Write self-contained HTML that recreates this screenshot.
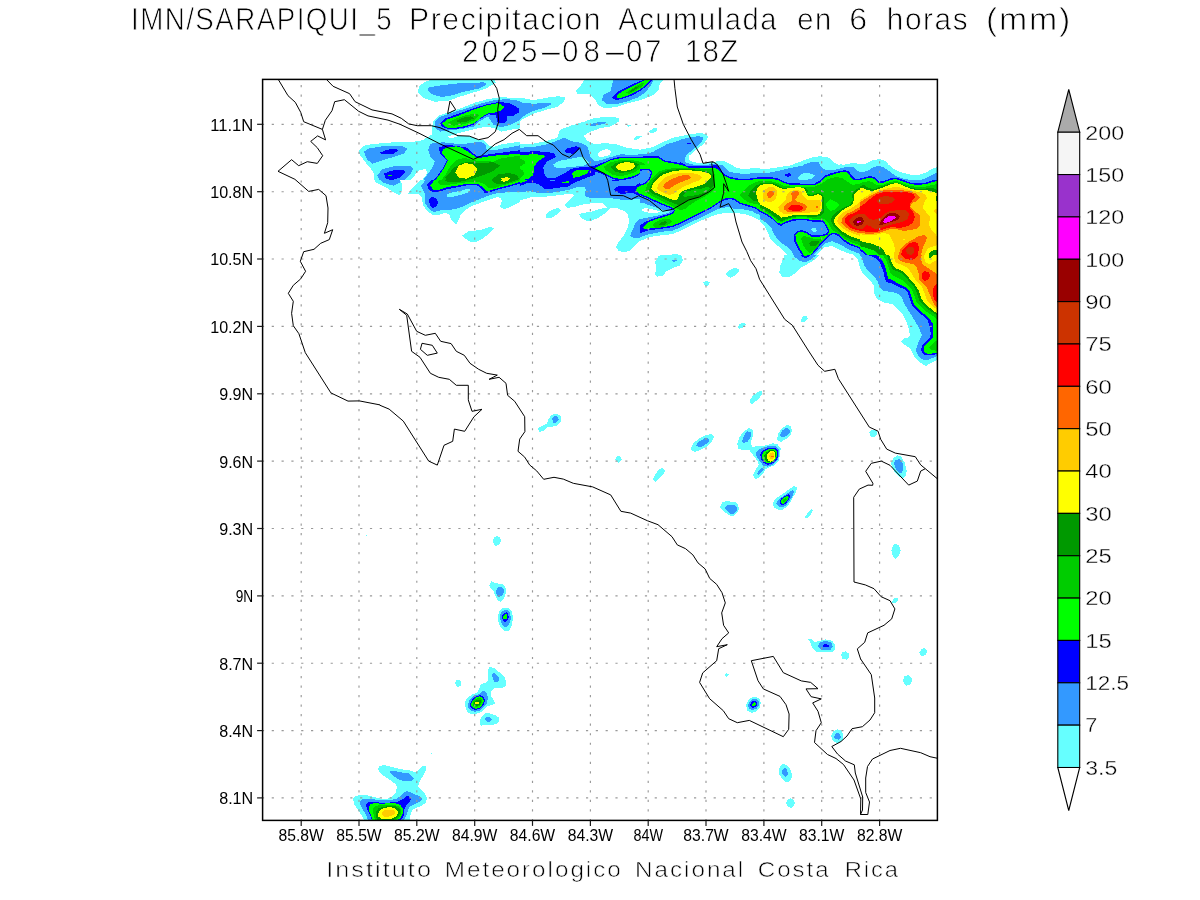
<!DOCTYPE html>
<html lang="es"><head><meta charset="utf-8"><title>IMN/SARAPIQUI_5 Precipitacion Acumulada en 6 horas (mm)</title>
<style>html,body{margin:0;padding:0;background:#fff;}body{width:1200px;height:900px;overflow:hidden;}svg{display:block;}text{font-family:"Liberation Sans","DejaVu Sans",sans-serif;fill:#000;}.t{font-size:30.5px;stroke:#fff;stroke-width:0.8px;letter-spacing:1.6px;}.ax{font-size:17.2px;}.cb{font-size:19.4px;stroke:#fff;stroke-width:0.35px;}.ft{font-size:22px;fill:#000;stroke:#fff;stroke-width:0.6px;letter-spacing:1.8px;}</style></head><body>
<svg width="1200" height="900" viewBox="0 0 1200 900">
<rect width="1200" height="900" fill="#fff"/>
<defs><clipPath id="pc"><rect x="262.6" y="79.4" width="674.8" height="741.0"/></clipPath></defs>
<g clip-path="url(#pc)" id="shade" shape-rendering="crispEdges">
<svg x="355" y="75" width="165" height="120" viewBox="355 75 165 120">
<rect x="355" y="75" width="165" height="120" fill="#fff"/>
<path fill="#66ffff" d="M429.3 80.3L494.7 80.3L496.0 82.3L486.7 88.3L476.0 91.7L458.7 97.0L448.0 101.0L434.7 101.7L424.0 98.3L417.3 92.3L419.3 86.3L424.0 82.3Z"/>
<path fill="#66ffff" d="M358.7 150.3L365.3 145.0L377.3 143.7L393.3 142.3L413.3 141.7L422.7 140.3L432.0 134.3L432.7 121.7L438.7 115.7L450.7 111.7L464.0 107.0L476.0 102.3L488.0 99.0L500.0 97.4L520.0 97.7L520.0 195.0L398.7 195.0L394.7 193.0L386.7 187.7L374.7 181.7L373.3 171.7L366.0 163.0L360.0 155.0L358.7 152.3Z"/>
<path fill="#ffffff" d="M446.7 137.0L453.3 134.6L466.7 131.0L480.0 127.7L488.0 127.0L494.7 128.3L501.3 131.7L510.7 129.7L520.0 128.3L520.0 141.7L510.7 143.0L501.3 144.3L493.3 147.0L488.0 145.0L484.0 140.3L477.3 139.7L469.3 136.1L458.7 136.1L452.0 138.3Z"/>
<path fill="#ffffff" d="M420.0 169.9L426.0 169.0L427.3 173.0L422.7 179.7L416.0 185.7L410.7 192.3L409.3 195.0L400.0 195.0L404.0 188.3L410.7 180.3L416.0 173.7Z"/>
<path fill="#3399ff" d="M434.7 86.3L453.3 83.7L484.0 82.3L486.7 84.3L480.0 88.3L464.0 91.7L453.3 95.0L442.7 97.0L433.3 95.0L427.3 90.3L428.7 87.7Z"/>
<path fill="#3399ff" d="M364.0 151.7L369.3 148.3L386.7 145.7L402.7 146.3L407.3 148.3L404.0 153.7L393.3 157.0L382.7 160.3L372.0 163.7L366.7 159.0Z"/>
<path fill="#3399ff" d="M377.3 175.0L382.7 169.0L396.0 165.7L409.3 165.7L413.3 168.3L410.7 173.7L404.0 180.3L393.3 185.7L384.0 183.0L378.7 179.0Z"/>
<path fill="#3399ff" d="M434.7 121.7L440.0 117.0L453.3 112.3L466.7 108.3L480.0 103.7L493.3 100.3L506.7 99.0L520.0 101.0L520.0 119.9L510.0 125.0L500.0 127.4L498.7 126.3L493.3 124.6L490.7 120.3L488.0 116.3L480.0 121.0L474.7 126.3L461.3 129.0L450.7 130.3L440.0 131.7L435.3 127.7Z"/>
<path fill="#3399ff" d="M428.0 149.7L430.7 143.7L442.7 142.3L461.3 144.3L480.0 141.7L485.3 144.3L486.7 149.7L493.3 150.3L520.0 145.4L520.0 195.0L426.7 195.0L422.7 191.0L420.0 185.7L424.0 179.0L432.0 168.3L434.7 161.7L430.7 157.7Z"/>
<path fill="#0000ff" d="M379.3 153.0L386.7 149.7L396.0 149.0L398.0 151.0L393.3 153.7L384.0 154.3Z"/>
<path fill="#0000ff" d="M384.0 173.7L390.7 170.7L402.7 169.7L405.3 172.3L400.0 177.7L390.7 180.3L385.3 178.3Z"/>
<path fill="#0000ff" d="M440.0 123.0L445.3 118.3L458.7 113.7L473.3 108.3L486.7 104.3L500.0 101.7L510.7 103.7L518.7 108.3L519.3 112.3L513.3 115.7L506.7 115.7L507.3 120.3L504.0 123.0L497.3 122.3L496.0 115.0L488.0 114.3L480.0 119.0L474.7 124.3L464.0 127.7L453.3 129.4L445.3 128.3L441.3 126.3Z"/>
<path fill="#0000ff" d="M438.7 147.7L445.3 145.0L456.0 145.7L466.7 147.7L473.3 153.7L477.3 156.3L493.3 153.7L520.0 150.3L520.0 185.7L506.7 189.7L493.3 191.0L486.7 193.0L484.0 189.7L480.0 185.7L453.3 189.7L440.0 192.3L430.7 191.0L428.0 185.7L436.0 177.7L442.7 168.3L446.7 160.3L440.0 153.7Z"/>
<path fill="#00ff00" d="M388.0 174.7L392.0 174.7L392.0 175.8L388.0 175.8Z"/>
<path fill="#00ff00" d="M442.0 123.7L446.7 119.7L460.0 115.0L473.3 109.7L486.7 105.4L498.7 103.0L504.7 107.0L501.3 110.3L493.3 113.0L486.7 113.7L480.0 118.3L474.7 123.0L464.0 126.3L453.3 128.1L445.3 127.3Z"/>
<path fill="#00ff00" d="M442.7 149.7L446.7 147.7L456.0 146.3L461.3 147.7L473.3 155.0L477.3 158.3L493.3 155.7L520.0 153.7L520.0 183.7L506.7 188.3L493.3 189.7L486.7 191.0L480.0 185.0L453.3 188.3L440.0 189.7L432.0 188.3L430.7 185.0L437.3 177.7L444.0 168.3L448.0 160.3L442.0 153.7Z"/>
<path fill="#00cc00" d="M448.0 122.3L456.0 118.3L466.7 115.0L474.7 113.7L480.0 115.0L474.7 120.3L464.0 124.3L453.3 125.7Z"/>
<path fill="#00cc00" d="M445.3 175.0L450.7 165.7L456.0 160.3L464.0 157.7L473.3 160.3L493.3 161.7L501.3 158.3L520.0 155.7L520.0 181.7L506.7 187.0L493.3 188.3L488.0 185.7L480.0 183.7L466.7 183.7L453.3 185.7L442.7 184.3L440.0 181.7Z"/>
<path fill="#009900" d="M456.0 121.0L462.7 117.7L470.7 116.3L474.0 118.3L466.7 121.7L460.0 122.7Z"/>
<path fill="#009900" d="M445.3 177.7L453.3 168.3L461.3 163.0L470.7 161.7L477.3 163.0L493.3 162.3L500.0 165.7L493.3 171.0L480.0 176.3L466.7 180.3L453.3 183.0L446.7 181.7Z"/>
<path fill="#009900" d="M492.0 179.0L498.7 174.3L509.3 173.0L517.3 175.0L518.7 179.0L513.3 183.0L501.3 185.0L494.7 183.0Z"/>
<path fill="#ffff00" d="M455.3 172.3L458.7 165.7L465.3 163.0L473.3 164.3L477.3 169.0L474.7 175.0L466.7 178.7L458.7 177.7Z"/>
<path fill="#ffff00" d="M501.3 178.3L506.7 177.0L510.7 178.3L508.0 181.0L502.7 181.7Z"/>
</svg>
<svg x="520" y="75" width="160" height="120" viewBox="520 75 160 120">
<rect x="520" y="75" width="160" height="120" fill="#fff"/>
<path fill="#66ffff" d="M520.0 97.7L528.0 99.0L533.3 100.3L546.7 97.7L557.3 96.3L565.3 97.0L564.0 101.7L557.3 107.0L546.7 109.7L533.3 113.7L525.3 117.7L520.0 121.0Z"/>
<path fill="#66ffff" d="M584.0 80.3L662.7 80.3L658.7 85.7L659.3 89.7L653.3 95.0L640.0 100.3L626.7 103.7L616.0 107.0L605.3 108.3L598.7 105.7L594.7 99.0L589.3 94.3L577.3 93.7L576.0 90.3L580.0 86.3Z"/>
<path fill="#66ffff" d="M520.0 144.3L533.3 143.7L546.7 141.0L557.3 137.7L560.0 129.7L570.7 125.7L584.0 121.7L594.7 117.7L613.3 117.0L619.3 118.3L618.7 121.7L610.7 126.3L600.0 128.3L589.3 132.3L584.0 135.7L586.7 140.3L594.7 144.3L605.3 143.0L616.0 144.3L626.7 147.7L640.0 149.7L653.3 147.0L664.0 141.7L673.3 137.7L680.0 136.3L680.0 195.0L520.0 195.0Z"/>
<path fill="#ffffff" d="M597.3 155.0L600.0 151.0L606.7 149.0L611.3 151.0L609.3 155.0L602.7 157.0L598.7 156.6Z"/>
<path fill="#66ffff" d="M626.0 124.6L630.7 125.4L628.7 127.0Z"/>
<path fill="#66ffff" d="M648.7 131.7L653.3 128.3L657.3 128.3L657.3 131.0L652.0 133.7Z"/>
<path fill="#66ffff" d="M633.3 139.0L636.0 136.3L642.0 136.1L638.7 139.0L634.7 140.1Z"/>
<path fill="#3399ff" d="M520.0 102.3L533.3 103.7L546.7 103.0L552.0 103.7L546.7 107.0L533.3 111.0L525.3 115.0L520.0 119.0Z"/>
<path fill="#3399ff" d="M613.3 80.3L653.3 80.3L650.7 85.7L645.3 92.3L637.3 97.7L626.7 101.7L616.0 104.3L606.7 103.7L602.0 100.3L603.3 95.0L610.7 91.0L612.0 84.3Z"/>
<path fill="#3399ff" d="M589.3 124.6L597.3 122.3L606.7 121.9L605.3 123.7L597.3 125.4L590.7 125.9Z"/>
<path fill="#3399ff" d="M520.0 147.7L533.3 147.0L546.7 144.3L554.7 141.7L564.0 137.7L570.7 141.0L581.3 143.0L587.3 146.3L588.7 151.0L590.7 157.7L594.7 161.7L600.0 160.3L613.3 156.3L621.3 154.3L633.3 155.0L646.7 153.7L653.3 151.7L666.7 144.3L680.0 140.3L680.0 195.0L520.0 195.0Z"/>
<path fill="#66ffff" d="M553.3 164.3L558.7 161.0L573.3 158.3L582.7 156.3L586.7 160.3L589.3 163.0L584.0 165.7L570.7 167.0L558.7 168.3L554.0 167.0Z"/>
<path fill="#66ffff" d="M558.7 195.0L564.0 191.0L573.3 188.3L580.0 186.3L585.3 188.3L586.0 192.3L584.0 195.0Z"/>
<path fill="#ffffff" d="M564.0 195.0L566.7 193.0L573.3 193.0L574.7 195.0Z"/>
<path fill="#0000ff" d="M616.0 93.0L621.3 89.7L633.3 83.7L642.7 80.3L652.0 80.3L648.0 85.0L640.0 91.0L632.0 95.7L621.3 99.0L616.0 100.3L612.0 97.7Z"/>
<path fill="#0000ff" d="M564.0 151.0L568.0 148.1L576.0 146.3L580.0 147.7L577.3 151.0L573.3 153.7L566.7 153.0Z"/>
<path fill="#0000ff" d="M520.0 152.1L533.3 151.3L546.7 151.7L554.7 153.7L556.0 157.0L546.7 161.7L543.3 167.0L544.0 173.7L546.7 177.7L554.7 178.3L564.0 173.7L570.7 169.0L581.3 167.0L589.3 166.7L594.7 171.3L594.7 175.0L586.7 177.7L576.0 181.7L566.7 185.0L553.3 187.7L544.0 188.3L533.3 184.6L520.0 183.0Z"/>
<path fill="#0000ff" d="M589.3 167.0L594.7 165.7L605.3 161.7L613.3 158.3L621.3 156.6L633.3 157.0L646.7 156.3L658.7 156.3L664.0 160.3L680.0 163.0L680.0 195.0L637.3 195.0L634.7 190.3L640.0 185.7L648.0 178.3L651.3 171.0L645.3 171.3L633.3 177.9L621.3 180.6L613.3 179.3L605.3 175.3L594.7 171.3Z"/>
<path fill="#0000ff" d="M613.3 188.3L617.3 185.7L626.7 186.3L634.7 189.7L637.3 195.0L616.0 195.0Z"/>
<path fill="#00ff00" d="M617.3 95.0L624.0 90.3L634.7 85.0L644.0 80.3L650.0 80.3L645.3 85.7L637.3 91.0L629.3 95.0L621.3 97.7L616.7 97.7Z"/>
<path fill="#00cc00" d="M625.3 93.0L633.3 87.7L640.0 83.7L644.0 83.0L642.7 86.3L636.0 90.3L629.3 93.7Z"/>
<path fill="#009900" d="M629.3 91.7L636.0 87.0L640.0 85.7L637.3 88.3L632.0 91.7Z"/>
<path fill="#00ff00" d="M520.0 155.0L533.3 154.3L542.7 154.7L545.3 156.6L537.3 161.7L534.0 167.0L533.3 175.0L528.0 179.0L520.0 180.3Z"/>
<path fill="#00cc00" d="M520.0 159.0L524.0 160.3L525.3 163.0L521.3 165.7L520.0 165.7Z"/>
<path fill="#00cc00" d="M520.0 168.3L523.3 171.0L524.0 175.0L521.3 177.7L520.0 177.7Z"/>
<path fill="#00ff00" d="M572.0 173.7L574.7 170.7L584.0 169.7L589.3 170.3L586.7 173.7L578.7 177.0L573.3 177.7Z"/>
<path fill="#00ff00" d="M562.4 181.7L568.0 181.0L568.7 182.3L565.3 183.3Z"/>
<path fill="#00ff00" d="M594.7 168.3L600.0 165.7L610.7 160.3L621.3 157.9L633.3 158.3L646.7 158.3L658.7 158.3L664.0 161.7L680.0 164.6L680.0 195.0L637.3 195.0L636.0 191.0L641.3 185.7L649.3 178.3L652.0 171.3L650.0 169.0L645.3 169.9L633.3 176.3L621.3 179.0L613.3 177.7L605.3 173.7Z"/>
<path fill="#00cc00" d="M603.3 167.0L610.7 162.3L621.3 159.7L633.3 160.3L640.0 161.7L645.3 164.3L640.0 169.0L633.3 173.0L621.3 176.3L613.3 175.0L606.7 171.0Z"/>
<path fill="#009900" d="M610.7 167.0L616.0 163.0L624.0 161.0L633.3 161.7L638.7 164.3L636.0 168.3L629.3 171.7L621.3 173.0L614.7 171.7Z"/>
<path fill="#ffff00" d="M615.3 167.0L619.3 163.7L626.7 161.9L633.3 163.0L635.3 165.7L632.7 169.0L625.3 171.0L618.7 170.3Z"/>
<path fill="#00cc00" d="M680.0 167.3L666.7 168.3L658.7 171.0L653.3 176.3L648.0 183.0L643.3 189.7L644.0 195.0L680.0 195.0Z"/>
<path fill="#009900" d="M680.0 169.0L666.7 169.9L660.0 173.0L654.7 178.3L650.0 184.3L646.7 189.7L647.3 195.0L680.0 195.0Z"/>
<path fill="#ffff00" d="M680.0 171.3L669.3 173.0L661.3 176.3L656.0 181.7L652.0 187.0L651.3 191.0L653.3 195.0L680.0 195.0Z"/>
<path fill="#ffcc00" d="M680.0 173.7L672.0 175.7L665.3 179.0L660.0 183.0L657.3 187.0L658.7 191.0L664.0 193.7L668.0 195.0L680.0 195.0Z"/>
<path fill="#ff6600" d="M680.0 175.7L673.3 178.3L666.7 181.7L663.3 185.0L664.7 188.3L669.3 189.0L674.7 187.0L680.0 184.3Z"/>
</svg>
<svg x="680" y="75" width="160" height="120" viewBox="680 75 160 120">
<rect x="680" y="75" width="160" height="120" fill="#fff"/>
<path fill="#66ffff" d="M680.0 136.3L688.0 134.7L700.0 133.0L706.7 134.3L708.0 137.7L704.0 143.7L696.0 149.7L689.3 155.7L689.1 159.7L693.3 162.3L702.7 163.0L713.3 161.7L724.0 161.0L730.7 164.3L733.3 167.7L746.7 168.3L760.0 169.7L773.3 169.0L786.7 167.0L800.0 161.7L810.7 157.7L820.0 156.1L829.3 157.7L834.7 163.0L840.0 165.7L840.0 195.0L680.0 195.0Z"/>
<path fill="#3399ff" d="M680.0 139.7L688.0 137.7L698.7 136.1L703.3 137.7L702.0 141.7L696.0 147.0L688.0 153.7L684.7 157.7L685.3 162.3L693.3 164.6L706.7 164.6L717.3 164.1L722.7 167.0L726.7 171.7L733.3 173.0L746.7 173.0L760.0 173.7L773.3 173.0L786.7 169.7L800.0 165.7L810.7 162.3L818.7 162.3L821.3 167.0L826.7 169.7L840.0 169.9L840.0 195.0L680.0 195.0Z"/>
<path fill="#66ffff" d="M797.3 177.7L802.7 173.7L809.3 173.0L815.3 175.0L812.0 178.3L804.0 179.7L798.7 179.7Z"/>
<path fill="#0000ff" d="M686.7 142.9L691.3 142.9L691.3 143.9L686.7 143.9Z"/>
<path fill="#0000ff" d="M784.0 175.0L788.7 173.0L792.0 175.0L788.0 177.0Z"/>
<path fill="#0000ff" d="M680.0 161.7L684.0 164.3L693.3 167.0L706.7 167.3L717.3 167.7L722.7 171.0L728.0 176.3L736.0 178.3L746.7 177.7L760.0 177.0L768.0 176.3L776.0 177.7L786.7 180.3L793.3 181.7L810.7 182.3L818.7 180.3L824.0 176.3L829.3 173.7L840.0 170.7L840.0 195.0L680.0 195.0Z"/>
<path fill="#00ff00" d="M680.0 165.0L693.3 168.3L706.7 169.0L716.0 169.0L721.3 173.0L726.7 178.3L736.0 181.0L744.0 182.3L749.3 181.0L760.0 179.0L768.0 177.9L776.0 179.7L786.7 183.0L793.3 183.7L810.7 184.6L818.7 182.3L825.3 177.7L830.7 175.0L840.0 172.6L840.0 195.0L680.0 195.0Z"/>
<path fill="#00cc00" d="M680.0 167.0L693.3 169.0L706.7 169.4L715.3 169.9L720.0 174.3L722.7 180.3L721.3 185.7L714.7 191.0L709.3 195.0L680.0 195.0Z"/>
<path fill="#009900" d="M680.0 168.3L693.3 169.9L705.3 170.7L712.7 173.7L714.7 179.0L709.3 184.3L698.7 189.0L688.0 193.0L680.0 194.3Z"/>
<path fill="#ffff00" d="M680.0 169.9L693.3 171.3L704.0 172.1L710.7 175.0L712.0 178.3L706.7 183.0L696.0 187.0L685.3 191.0L680.0 192.3Z"/>
<path fill="#ffcc00" d="M680.0 171.7L690.7 173.0L698.7 174.3L702.0 177.0L698.7 180.3L690.7 183.7L680.0 186.3Z"/>
<path fill="#ff6600" d="M680.0 174.3L686.7 175.0L690.7 177.4L686.7 180.3L680.0 182.7Z"/>
<path fill="#00cc00" d="M744.0 195.0L748.0 188.3L754.7 183.0L765.3 180.3L776.0 181.7L786.7 185.0L800.0 185.7L810.7 187.0L818.7 185.7L824.0 180.3L832.0 177.0L840.0 174.3L840.0 195.0Z"/>
<path fill="#009900" d="M746.7 195.0L750.7 188.3L757.3 183.7L766.7 181.7L776.0 183.7L786.7 186.3L797.3 186.3L805.3 188.3L813.3 189.7L821.3 191.0L824.0 195.0Z"/>
<path fill="#ffff00" d="M755.3 195.0L756.7 189.7L761.3 185.0L769.3 183.7L776.0 185.7L781.3 188.3L786.7 189.0L793.3 187.0L800.0 187.7L805.3 191.0L806.7 195.0Z"/>
<path fill="#ffff00" d="M814.7 195.0L817.3 193.0L820.0 194.3L820.7 195.0Z"/>
<path fill="#ffcc00" d="M762.7 195.0L765.3 190.3L770.7 188.3L776.0 190.3L778.7 195.0Z"/>
<path fill="#ffcc00" d="M786.7 195.0L789.3 191.7L794.7 190.3L800.0 192.3L801.3 195.0Z"/>
<path fill="#ff6600" d="M767.3 195.0L769.3 192.1L773.3 191.7L775.3 195.0Z"/>
<path fill="#ff6600" d="M790.7 195.0L793.3 192.3L797.3 193.0L798.7 195.0Z"/>
</svg>
<svg x="840" y="75" width="100" height="120" viewBox="840 75 100 120">
<rect x="840" y="75" width="100" height="120" fill="#fff"/>
<path fill="#66ffff" d="M800.0 161.7L809.3 157.7L818.7 156.1L826.7 157.0L832.0 161.7L836.0 164.3L844.0 164.6L853.3 163.0L864.0 164.3L872.0 160.3L880.0 159.0L885.3 161.0L890.7 167.0L896.0 172.3L906.7 174.3L917.3 175.0L926.7 171.7L937.3 167.0L937.3 195.0L800.0 195.0Z"/>
<path fill="#3399ff" d="M800.0 167.0L808.0 163.0L817.3 161.9L821.3 165.7L822.7 169.7L833.3 168.3L844.0 166.3L852.0 167.0L857.3 171.0L861.3 173.0L869.3 169.7L877.3 166.3L882.7 167.0L890.7 172.3L896.0 175.7L906.7 178.3L917.3 179.7L926.7 177.0L937.3 172.3L937.3 195.0L800.0 195.0Z"/>
<path fill="#0000ff" d="M800.0 182.3L808.0 183.0L814.7 182.3L820.0 178.3L826.7 173.7L837.3 171.0L845.3 169.7L850.0 171.7L852.0 176.3L856.0 178.3L864.0 177.4L870.7 176.1L874.7 177.7L878.7 181.0L885.3 180.3L890.7 177.7L896.0 177.0L904.0 179.7L912.0 182.3L920.0 182.3L928.0 181.0L937.3 179.0L937.3 195.0L800.0 195.0Z"/>
<path fill="#00ff00" d="M800.0 184.3L808.0 185.0L814.7 184.3L821.3 180.3L828.0 175.7L837.3 173.0L845.3 171.7L848.7 173.7L850.7 178.3L856.0 180.6L864.0 179.7L870.7 178.3L874.0 179.7L878.7 183.0L885.3 182.3L890.7 179.7L896.0 179.0L904.0 181.7L912.0 184.3L920.0 184.3L928.0 183.0L937.3 181.0L937.3 195.0L800.0 195.0Z"/>
<path fill="#00cc00" d="M800.0 186.3L808.0 187.7L813.3 188.3L818.7 187.0L824.0 181.7L830.7 177.7L837.3 177.0L844.0 180.3L850.7 183.7L857.3 184.3L864.0 182.3L869.3 181.0L873.3 183.0L878.7 185.7L886.7 184.3L892.0 181.7L897.3 181.0L905.3 183.7L913.3 186.3L922.7 186.3L937.3 183.7L937.3 195.0L800.0 195.0Z"/>
<path fill="#009900" d="M850.7 195.0L854.7 189.7L862.7 185.7L869.3 183.7L873.3 185.0L878.7 187.7L886.7 185.7L892.0 183.0L897.3 182.3L905.3 185.0L913.3 187.7L922.7 187.7L937.3 185.0L937.3 195.0Z"/>
<path fill="#ffff00" d="M853.3 195.0L856.0 190.3L862.7 188.3L868.0 189.0L872.0 192.3L880.0 189.7L888.0 186.3L893.3 183.7L897.3 183.3L904.0 186.3L913.3 189.4L922.7 189.7L937.3 187.7L937.3 195.0Z"/>
<path fill="#ffcc00" d="M870.7 195.0L877.3 191.7L886.7 188.3L893.3 185.0L897.3 184.6L904.0 188.1L913.3 191.0L920.0 192.3L928.0 192.3L937.3 191.0L937.3 195.0Z"/>
<path fill="#ff6600" d="M874.7 195.0L882.7 191.0L890.7 188.3L897.3 187.3L904.0 189.7L913.3 192.3L917.3 195.0Z"/>
<path fill="#ff0000" d="M878.7 195.0L885.3 192.3L893.3 191.0L901.3 191.3L909.3 193.0L913.3 195.0Z"/>
</svg>
<svg x="400" y="180" width="120" height="75" viewBox="400 180 120 75">
<rect x="400" y="180" width="120" height="75" fill="#fff"/>
<path fill="#66ffff" d="M427.0 171.0L426.0 176.0L420.0 180.0L414.0 186.0L410.0 191.0L408.5 193.5L418.0 194.0L421.5 197.0L423.0 205.0L427.0 211.0L433.0 215.0L438.0 215.0L444.0 213.0L449.0 214.0L452.0 221.0L456.5 224.5L459.0 219.0L461.0 214.0L465.0 210.0L472.0 206.0L480.0 203.0L490.0 199.5L497.0 197.0L501.0 198.0L502.0 201.0L500.0 207.0L504.0 209.0L510.0 207.0L516.0 204.0L520.0 202.0L520.0 165.0L430.0 165.0Z"/>
<path fill="#66ffff" d="M400.0 180.0L401.5 183.0L402.2 188.0L401.0 193.5L400.0 194.0Z"/>
<path fill="#66ffff" d="M462.0 235.5L468.0 231.5L480.0 230.0L490.0 227.0L494.5 228.0L490.0 233.0L482.0 239.0L476.0 242.0L471.0 242.0L465.0 238.5Z"/>
<path fill="#3399ff" d="M433.0 171.0L428.0 177.0L421.0 186.0L425.0 194.0L425.0 203.0L429.0 209.0L434.0 212.0L440.0 210.5L448.0 210.0L456.0 209.0L464.0 206.0L470.0 203.0L480.0 199.0L490.0 195.0L496.0 193.5L505.0 192.5L520.0 191.5L520.0 165.0L438.0 165.0Z"/>
<path fill="#66ffff" d="M447.0 194.0L452.0 192.5L460.0 191.0L466.0 189.0L470.0 189.5L469.0 192.0L462.0 194.5L454.0 196.5L447.5 197.0Z"/>
<path fill="#0000ff" d="M444.0 165.0L440.0 170.0L433.0 178.0L427.0 185.0L429.0 190.0L434.0 192.5L438.0 192.0L448.0 189.0L458.0 187.0L468.0 185.0L477.0 185.5L481.0 188.0L485.0 193.5L490.0 192.0L500.0 189.0L510.0 186.5L520.0 183.5L520.0 165.0Z"/>
<path fill="#0000ff" d="M429.0 201.0L430.0 198.0L433.0 196.8L436.0 198.5L438.0 202.5L436.0 206.5L433.0 208.0L430.0 205.5Z"/>
<path fill="#00ff00" d="M446.0 165.0L442.0 170.0L435.0 179.0L430.5 185.5L433.0 190.0L438.0 190.0L448.0 187.0L458.0 185.5L466.0 184.0L478.0 184.0L483.0 187.5L487.0 191.0L490.0 190.5L500.0 187.5L510.0 185.0L520.0 182.0L520.0 165.0Z"/>
<path fill="#00cc00" d="M449.0 165.0L444.0 172.0L439.0 179.0L438.0 183.0L442.0 185.5L450.0 184.5L460.0 183.0L470.0 182.0L480.0 182.5L485.0 184.5L488.0 187.5L494.0 188.0L504.0 185.0L515.0 182.0L520.0 180.0L520.0 165.0Z"/>
<path fill="#009900" d="M456.0 165.0L450.0 170.0L445.0 176.0L444.5 180.0L448.0 182.5L456.0 182.0L465.0 181.0L475.0 177.0L485.0 175.0L495.0 172.0L500.0 169.0L502.0 165.0Z"/>
<path fill="#009900" d="M492.0 179.0L496.0 175.0L504.0 173.0L512.0 173.0L518.0 175.0L518.0 178.0L514.0 181.0L506.0 183.5L498.0 184.5L493.0 182.0Z"/>
<path fill="#ffff00" d="M460.0 165.0L456.0 170.0L455.0 174.0L458.0 178.0L464.0 179.0L470.0 177.5L475.0 174.5L477.5 169.0L475.0 165.0Z"/>
<path fill="#ffff00" d="M501.0 179.0L505.0 177.0L510.0 177.0L511.0 178.5L508.0 180.5L504.0 182.0L501.5 181.0Z"/>
</svg>
<svg x="520" y="255" width="160" height="60" viewBox="520 255 160 60">
<rect x="520" y="255" width="160" height="60" fill="#fff"/>
<path fill="#66ffff" d="M654.7 275.0L656.0 269.7L655.3 261.7L658.7 255.7L669.3 254.3L680.0 254.3L680.0 265.7L673.3 267.7L666.7 271.0L662.7 275.7L657.3 276.6Z"/>
<path fill="#3399ff" d="M671.3 260.1L676.7 259.7L676.7 261.3L672.7 261.7Z"/>
</svg>
<svg x="520" y="180" width="120" height="75" viewBox="520 180 120 75">
<rect x="520" y="180" width="120" height="75" fill="#fff"/>
<path fill="#66ffff" d="M520.0 200.5L530.0 197.5L544.0 196.8L560.0 195.0L572.0 193.5L574.0 195.0L570.0 199.0L566.0 203.0L565.0 206.0L568.0 207.8L574.0 207.0L580.0 205.0L590.0 203.5L602.0 203.0L605.0 205.0L607.0 207.5L600.0 209.0L590.0 212.0L582.0 213.0L579.0 214.5L581.0 218.0L586.0 220.5L592.0 220.5L598.0 218.0L604.0 214.0L608.0 210.0L610.0 208.0L617.0 208.0L624.0 211.0L628.0 215.0L629.0 221.0L628.0 227.0L624.0 235.0L618.0 243.0L616.0 247.0L618.5 251.0L624.0 252.0L629.0 251.0L633.0 248.0L636.0 244.0L640.0 241.0L640.0 165.0L520.0 165.0Z"/>
<path fill="#66ffff" d="M546.0 215.0L549.0 211.5L554.0 209.0L558.5 208.0L561.0 210.5L558.0 214.0L553.0 217.0L548.5 218.5L546.0 217.5Z"/>
<path fill="#3399ff" d="M520.0 192.0L530.0 191.2L541.0 193.5L550.0 193.0L560.0 191.5L570.0 189.5L579.0 186.5L584.0 186.5L586.0 189.5L584.5 194.0L586.0 197.0L592.0 198.0L602.0 198.0L610.0 198.0L620.0 199.5L630.0 200.0L640.0 198.5L640.0 165.0L520.0 165.0Z"/>
<path fill="#3399ff" d="M640.0 219.0L636.0 222.0L633.0 229.0L630.0 236.0L633.0 237.5L640.0 238.0Z"/>
<path fill="#0000ff" d="M520.0 186.0L526.0 183.5L534.0 183.0L539.0 184.5L544.0 188.5L550.0 189.0L560.0 187.5L568.0 186.5L574.0 183.0L582.0 179.5L592.0 177.0L602.0 176.0L606.0 177.0L610.0 180.0L616.0 181.5L630.0 177.0L640.0 174.5L640.0 165.0L520.0 165.0Z"/>
<path fill="#3399ff" d="M540.0 169.0L544.0 175.0L546.0 180.0L553.0 181.0L560.0 179.0L564.0 175.0L568.0 171.0L574.0 168.5L584.0 167.0L590.0 166.0L589.0 165.0L542.0 165.0Z"/>
<path fill="#66ffff" d="M553.0 165.0L554.0 166.8L558.0 167.8L564.0 166.5L566.0 165.0Z"/>
<path fill="#0000ff" d="M614.0 189.0L618.0 186.5L626.0 186.0L634.0 186.5L640.0 183.0L640.0 196.0L633.0 193.0L626.0 193.5L620.0 193.5L615.0 191.5Z"/>
<path fill="#00ff00" d="M640.0 185.5L637.0 187.5L636.0 190.0L638.0 192.5L640.0 194.0Z"/>
<path fill="#00ff00" d="M520.0 165.0L536.0 165.0L534.0 169.0L533.5 178.0L526.0 181.0L520.0 183.5Z"/>
<path fill="#00cc00" d="M520.0 169.0L523.0 171.0L524.0 174.0L522.0 177.0L520.0 178.5Z"/>
<path fill="#00ff00" d="M572.0 173.5L576.0 171.0L584.0 170.0L590.0 170.0L588.0 172.5L582.0 175.5L576.0 178.0L572.5 177.0Z"/>
<path fill="#00ff00" d="M562.0 182.0L569.0 181.0L569.0 182.5L566.0 183.5L562.0 183.0Z"/>
<path fill="#00ff00" d="M599.0 165.0L596.0 167.0L594.0 169.5L600.0 172.0L606.0 174.0L610.0 177.0L618.0 179.0L630.0 175.5L640.0 172.5L640.0 165.0Z"/>
<path fill="#00cc00" d="M605.0 165.0L604.5 168.0L608.0 171.0L614.0 174.0L620.0 175.0L630.0 173.0L640.0 170.0L640.0 165.0Z"/>
<path fill="#009900" d="M610.0 165.0L610.5 168.0L614.0 170.5L620.0 172.0L628.0 171.5L636.0 169.0L640.0 167.0L640.0 165.0Z"/>
<path fill="#ffff00" d="M615.0 165.0L616.0 167.5L620.0 169.5L626.0 170.0L632.0 168.5L635.0 166.0L635.0 165.0Z"/>
</svg>
<svg x="640" y="165" width="120" height="90" viewBox="640 165 120 90">
<rect x="640" y="165" width="120" height="90" fill="#fff"/>
<path fill="#66ffff" d="M640.0 165.0L732.0 165.0L734.0 167.0L740.0 168.5L750.0 168.5L760.0 168.0L760.0 220.5L758.0 219.5L752.0 216.5L744.0 214.0L735.0 213.0L726.0 213.0L718.0 214.0L710.0 217.0L700.0 221.0L692.0 225.0L682.0 230.0L673.0 234.0L660.0 235.5L650.0 237.0L640.0 241.0Z"/>
<path fill="#66ffff" d="M671.0 255.0L672.0 254.0L678.0 254.0L678.5 255.0Z"/>
<path fill="#3399ff" d="M640.0 165.0L723.0 165.0L726.0 169.0L730.0 172.0L740.0 173.5L750.0 173.5L760.0 173.0L760.0 215.0L757.0 214.0L752.0 211.0L744.0 209.5L734.0 209.0L728.0 207.0L722.0 208.0L718.0 209.0L710.0 213.0L700.0 218.0L692.0 221.5L682.0 226.5L673.0 230.5L660.0 232.0L650.0 234.0L640.0 237.0Z"/>
<path fill="#66ffff" d="M640.0 202.5L645.0 203.5L651.0 206.0L657.0 208.0L663.0 210.0L670.0 211.2L668.0 213.0L660.0 215.0L650.0 217.0L640.0 219.0Z"/>
<path fill="#ffffff" d="M642.0 209.5L645.0 208.0L650.0 209.0L656.0 210.0L660.0 211.5L657.0 213.0L652.0 213.5L646.0 212.0L642.5 211.0Z"/>
<path fill="#0000ff" d="M640.0 165.0L717.0 165.0L720.0 169.0L724.0 174.0L730.0 177.0L740.0 179.0L750.0 178.5L760.0 177.0L760.0 212.0L756.0 209.0L750.0 207.0L740.0 204.0L734.0 200.0L730.0 199.0L725.0 200.0L720.0 202.5L716.0 205.0L710.0 209.0L700.0 214.0L692.0 218.0L682.0 223.0L673.0 227.0L660.0 229.0L650.0 230.0L640.0 233.0L640.0 225.0L646.0 221.5L655.0 218.0L665.0 215.0L672.0 213.0L674.0 210.0L670.0 208.0L660.0 204.0L650.0 199.5L640.0 195.0Z"/>
<path fill="#3399ff" d="M683.0 165.0L690.0 166.2L700.0 166.5L710.0 166.2L716.0 165.0Z"/>
<path fill="#00ff00" d="M640.0 165.0L682.0 165.0L688.0 167.5L700.0 168.0L710.0 167.8L716.0 168.5L720.0 171.0L724.0 175.5L730.0 178.5L740.0 180.5L750.0 180.0L760.0 178.5L760.0 210.5L756.0 207.5L750.0 205.5L740.0 202.5L734.0 198.5L730.0 197.5L725.0 198.5L720.0 201.0L716.0 203.5L710.0 207.5L700.0 212.5L692.0 216.5L682.0 221.5L673.0 225.5L660.0 227.5L650.0 228.5L644.0 229.0L643.0 227.0L647.0 223.0L655.0 219.5L665.0 216.5L673.0 214.0L675.0 210.0L671.0 207.0L660.0 202.5L650.0 198.0L640.0 193.5Z"/>
<path fill="#0000ff" d="M640.0 169.5L644.0 168.5L650.0 169.0L652.5 172.5L650.5 178.5L646.0 183.5L640.0 186.0Z"/>
<path fill="#3399ff" d="M640.0 171.0L644.0 170.0L649.0 170.5L651.0 172.5L649.0 178.0L645.0 182.5L640.0 184.5Z"/>
<path fill="#00cc00" d="M645.0 191.5L647.5 184.5L652.0 178.0L658.0 172.0L666.0 169.0L680.0 167.5L700.0 168.5L710.0 168.5L714.0 171.0L715.0 177.0L715.5 185.0L714.0 189.0L710.0 193.0L704.0 197.0L700.0 199.0L696.0 201.0L690.0 205.0L685.0 209.0L680.0 210.0L674.0 207.0L668.0 204.0L660.0 200.0L652.0 196.0Z"/>
<path fill="#00cc00" d="M740.0 195.0L744.0 190.0L750.0 185.0L756.0 182.0L760.0 181.0L760.0 205.0L750.0 203.0L743.0 199.0Z"/>
<path fill="#00cc00" d="M652.0 225.0L656.0 222.0L663.0 219.0L669.0 218.5L672.0 221.0L669.0 224.0L663.0 227.0L656.0 228.5Z"/>
<path fill="#009900" d="M649.0 190.0L651.0 184.5L655.0 178.0L660.0 173.5L667.0 170.5L680.0 169.0L692.0 169.0L704.0 171.0L710.0 173.0L713.0 176.0L714.0 181.0L713.5 186.0L710.0 190.0L704.0 194.0L696.0 198.0L688.0 200.0L683.0 204.0L678.0 205.0L673.0 203.0L666.0 200.0L658.0 196.0L652.0 194.0Z"/>
<path fill="#00cc00" d="M683.0 195.0L687.0 191.5L694.0 189.5L702.0 188.5L708.0 186.5L710.0 188.5L705.0 192.5L698.0 195.0L690.0 196.0L684.0 197.0Z"/>
<path fill="#009900" d="M748.0 196.0L751.0 190.0L755.0 186.0L760.0 184.0L760.0 202.0L753.0 201.0Z"/>
<path fill="#009900" d="M659.0 224.0L662.0 222.0L666.0 221.0L667.0 222.5L664.0 225.0L660.0 225.5Z"/>
<path fill="#ffff00" d="M651.0 189.0L653.0 184.0L658.0 178.0L664.0 174.0L672.0 171.5L682.0 170.0L692.0 170.5L702.0 171.5L709.0 173.5L711.5 176.0L709.0 180.0L704.0 184.0L696.0 187.0L688.0 189.0L682.0 191.0L679.0 195.0L678.0 199.0L674.0 200.5L668.0 198.0L660.0 194.5L654.0 192.0Z"/>
<path fill="#ffff00" d="M756.0 193.0L757.5 188.0L760.0 186.0L760.0 204.0L758.0 201.0Z"/>
<path fill="#ffcc00" d="M657.0 188.0L659.0 183.0L664.0 178.0L672.0 174.5L682.0 172.5L692.0 173.0L700.0 175.0L702.0 177.5L699.0 180.5L692.0 183.0L684.0 186.5L678.0 190.0L673.0 194.0L669.0 195.0L663.0 192.5L658.5 190.0Z"/>
<path fill="#ff6600" d="M663.0 186.5L665.0 183.5L670.0 180.0L678.0 176.5L685.0 174.5L689.0 175.0L691.0 177.5L688.0 179.5L680.0 182.5L674.0 185.5L670.0 188.5L666.0 189.0Z"/>
</svg>
<svg x="760" y="165" width="120" height="90" viewBox="760 165 120 90">
<rect x="760" y="165" width="120" height="90" fill="#fff"/>
<path fill="#66ffff" d="M760.0 165.0L880.0 165.0L880.0 255.0L760.0 255.0Z"/>
<path fill="#ffffff" d="M760.0 165.0L793.0 165.0L790.0 165.5L780.0 167.0L770.0 168.5L760.0 169.0Z"/>
<path fill="#ffffff" d="M760.0 222.0L764.0 225.0L767.0 231.0L771.0 240.0L778.0 246.0L785.0 252.0L787.0 255.0L760.0 255.0Z"/>
<path fill="#ffffff" d="M817.0 255.0L820.0 251.0L825.0 247.0L832.0 246.0L840.0 250.0L850.0 254.0L856.0 255.0Z"/>
<path fill="#3399ff" d="M760.0 173.5L770.0 172.5L780.0 170.5L790.0 168.0L800.0 166.0L805.0 165.0L820.0 165.0L822.0 168.0L826.0 170.0L836.0 169.5L846.0 167.0L854.0 167.5L858.0 171.0L862.0 172.5L868.0 171.0L873.0 168.0L880.0 166.0L880.0 255.0L864.0 255.0L860.0 254.0L850.0 250.0L839.0 244.0L832.0 241.0L826.0 243.0L820.0 248.0L814.0 255.0L793.0 255.0L792.0 251.0L786.0 246.0L779.0 241.0L774.0 234.0L771.0 227.0L765.0 222.0L760.0 219.0Z"/>
<path fill="#66ffff" d="M797.0 178.0L800.0 175.0L804.0 173.0L810.0 173.5L815.0 175.5L812.0 178.5L806.0 180.0L800.0 180.0Z"/>
<path fill="#66ffff" d="M811.0 229.0L813.0 227.8L816.0 228.5L817.0 231.0L814.5 232.0L812.0 231.0Z"/>
<path fill="#0000ff" d="M784.0 175.0L789.0 173.0L792.0 175.0L788.5 177.0Z"/>
<path fill="#0000ff" d="M760.0 177.5L770.0 177.0L778.0 178.5L784.0 181.5L789.0 183.0L800.0 183.5L814.0 184.0L819.0 181.0L824.0 176.0L830.0 173.5L838.0 171.5L845.0 170.0L849.0 171.5L852.0 176.0L855.0 179.0L860.0 178.5L866.0 177.0L872.0 176.0L876.0 179.0L880.0 182.5L880.0 255.0L868.0 255.0L864.0 252.0L858.0 248.0L850.0 245.0L843.0 241.0L838.0 236.0L834.0 234.0L830.0 235.0L824.0 241.0L818.0 248.0L812.0 255.0L802.0 255.0L800.0 252.0L797.0 247.0L794.0 241.0L793.5 235.0L797.0 231.0L802.0 230.0L807.0 232.0L812.0 235.5L820.0 235.0L826.0 234.0L828.0 231.0L825.0 225.0L822.0 221.5L814.0 222.0L807.0 220.5L800.0 220.0L792.0 221.0L786.0 223.0L781.0 226.0L778.0 225.0L772.0 219.0L766.0 215.0L760.0 212.0Z"/>
<path fill="#00ff00" d="M760.0 179.0L770.0 178.5L778.0 180.0L784.0 183.0L789.0 184.5L800.0 185.0L814.0 185.5L820.0 182.5L825.0 177.5L831.0 175.0L838.0 173.0L845.0 171.5L848.0 173.0L850.5 177.0L854.0 180.5L860.0 180.0L866.0 178.5L871.0 177.5L875.0 180.5L880.0 184.5L880.0 255.0L870.0 255.0L865.0 250.5L858.0 246.5L850.0 243.5L844.0 239.5L839.0 234.5L834.0 232.5L829.0 234.0L823.0 240.0L817.0 247.0L810.5 255.0L803.5 255.0L802.0 252.0L799.0 247.0L796.0 241.0L795.5 235.5L798.0 232.5L802.0 231.5L806.5 233.5L812.0 237.0L820.0 236.5L827.5 235.0L829.5 231.0L826.5 225.0L823.0 220.0L814.0 220.5L807.0 219.0L800.0 218.5L792.0 219.5L786.0 221.5L781.0 224.0L778.0 223.0L772.0 217.5L766.0 213.5L760.0 210.5Z"/>
<path fill="#00cc00" d="M760.0 181.5L770.0 181.0L778.0 183.0L783.0 185.5L790.0 186.5L804.0 186.5L814.0 187.0L822.0 183.5L828.0 179.0L836.0 177.0L842.0 178.0L848.0 182.0L853.0 185.0L860.0 183.5L868.0 181.5L874.0 183.0L880.0 186.5L880.0 255.0L873.0 255.0L872.0 254.0L866.0 249.0L860.0 245.0L852.0 242.5L845.0 239.0L840.0 235.0L836.0 232.0L832.0 230.0L829.0 224.0L824.0 218.5L814.0 219.0L807.0 217.5L800.0 217.0L792.0 218.0L786.0 220.0L781.5 222.0L778.0 221.0L772.0 216.0L766.0 212.0L760.0 209.0Z"/>
<path fill="#00ff00" d="M826.0 203.0L830.0 199.0L836.0 202.0L839.0 205.0L836.0 209.0L830.0 211.0L827.0 208.0Z"/>
<path fill="#00cc00" d="M801.0 238.0L804.0 236.0L808.0 237.0L814.0 239.0L820.0 239.0L822.0 241.0L819.0 245.0L814.0 250.0L810.0 253.0L807.0 251.0L803.0 245.0Z"/>
<path fill="#009900" d="M809.0 243.0L813.0 240.5L818.0 240.5L819.0 242.5L817.0 245.0L813.0 246.5L810.0 245.5Z"/>
<path fill="#009900" d="M760.0 183.0L770.0 182.5L777.0 184.5L782.0 187.5L790.0 187.5L804.0 187.5L808.0 190.0L807.0 194.0L812.0 195.0L817.0 193.0L822.0 194.0L824.0 198.0L824.0 205.0L824.0 212.0L820.0 216.0L814.0 217.0L807.0 216.5L800.0 216.0L792.0 217.0L786.0 219.0L781.5 221.0L778.0 219.5L772.0 214.5L766.0 210.5L760.0 207.5Z"/>
<path fill="#009900" d="M880.0 185.0L870.0 184.5L862.0 186.5L855.0 190.0L852.0 195.0L853.0 200.0L850.0 205.0L845.0 207.0L838.0 211.0L832.0 216.0L831.0 221.0L834.0 227.0L840.0 233.0L846.0 237.0L852.0 240.0L860.0 242.0L868.0 244.0L874.0 245.0L880.0 246.0Z"/>
<path fill="#ffff00" d="M760.0 185.0L766.0 184.0L773.0 184.5L779.0 187.5L784.0 189.0L790.0 188.0L800.0 187.0L804.0 188.5L806.0 192.5L808.0 196.5L813.0 196.0L818.0 194.0L821.5 196.0L822.5 201.0L822.0 208.0L820.0 214.0L814.0 215.5L807.0 215.0L800.0 214.5L792.0 215.5L786.0 217.0L781.5 217.5L775.0 213.0L769.0 209.0L763.0 206.0L760.0 205.0Z"/>
<path fill="#ffff00" d="M880.0 188.5L870.0 187.5L863.0 188.5L857.0 191.0L853.5 195.0L854.0 200.0L852.0 205.0L846.0 208.0L840.0 212.0L835.0 217.0L833.5 222.0L837.0 227.0L843.0 232.0L850.0 236.0L858.0 239.0L866.0 241.0L874.0 241.5L880.0 242.0Z"/>
<path fill="#ffcc00" d="M763.0 194.0L764.5 190.0L768.0 187.5L773.0 187.0L776.5 190.0L777.0 195.0L775.0 200.0L770.0 202.5L765.0 201.0L763.0 198.0Z"/>
<path fill="#ffcc00" d="M778.0 207.0L782.0 203.0L786.0 199.0L787.0 194.0L790.0 191.0L796.0 190.0L801.0 191.0L803.0 196.0L807.0 200.0L814.0 200.5L819.0 199.5L821.0 203.0L820.0 209.0L817.0 212.0L810.0 212.5L800.0 212.5L790.0 214.0L784.0 214.0L779.5 211.0Z"/>
<path fill="#ffcc00" d="M880.0 190.0L874.0 192.0L868.0 195.0L862.0 199.0L856.0 205.0L850.0 209.0L844.0 212.0L839.0 216.0L837.0 221.0L840.0 226.0L846.0 230.5L854.0 234.0L862.0 236.5L870.0 238.5L880.0 239.0Z"/>
<path fill="#ff6600" d="M767.0 195.0L768.0 192.0L771.0 190.5L774.0 192.0L774.0 195.0L771.0 197.5L768.0 197.5Z"/>
<path fill="#ff6600" d="M791.0 194.0L793.0 191.5L798.0 191.2L799.5 193.5L797.0 197.0L795.0 200.0L798.0 202.0L804.0 204.0L807.0 207.0L806.0 210.0L802.0 211.5L794.0 212.0L787.0 211.5L783.5 209.0L784.0 206.0L788.0 203.0L792.0 201.0L792.5 198.0Z"/>
<path fill="#ff6600" d="M816.0 206.5L818.0 206.0L818.5 207.5L816.5 208.0Z"/>
<path fill="#ff6600" d="M880.0 191.5L875.0 194.0L869.0 198.0L864.0 202.5L858.0 208.0L852.0 211.5L846.0 214.0L842.0 218.0L841.5 222.5L845.0 227.0L852.0 231.0L860.0 233.5L870.0 235.0L880.0 235.5Z"/>
<path fill="#ff0000" d="M788.0 208.0L791.0 205.5L797.0 205.0L802.0 206.0L803.5 208.5L800.0 210.5L793.0 210.8L789.0 210.0Z"/>
<path fill="#ff0000" d="M880.0 193.5L876.0 196.0L870.0 200.5L865.0 205.0L860.0 209.5L854.0 213.0L848.0 215.0L845.0 218.0L845.0 222.5L849.0 227.0L856.0 230.0L864.0 231.5L872.0 232.5L880.0 233.0Z"/>
<path fill="#cc3300" d="M849.0 221.0L852.0 217.0L858.0 214.0L864.0 213.5L868.0 216.5L870.0 219.5L876.0 219.0L880.0 218.0L880.0 229.0L874.0 228.5L868.0 225.0L864.0 228.0L858.0 229.0L852.0 226.0Z"/>
<path fill="#cc3300" d="M880.0 198.0L878.0 199.5L877.5 202.0L880.0 204.0Z"/>
<path fill="#990000" d="M853.0 221.5L856.0 218.0L860.0 217.0L863.0 218.5L864.0 222.0L861.0 225.0L857.0 226.0L854.0 224.5Z"/>
<path fill="#ff00ff" d="M856.8 221.5L861.0 220.8L861.0 222.0L857.5 222.8Z"/>
</svg>
<svg x="860" y="165" width="80" height="90" viewBox="860 165 80 90">
<rect x="860" y="165" width="80" height="90" fill="#fff"/>
<path fill="#66ffff" d="M840.0 165.0L960.0 165.0L960.0 255.0L840.0 255.0Z"/>
<path fill="#ffffff" d="M889.0 165.0L894.0 169.0L900.0 172.0L910.0 174.5L920.0 174.5L927.0 172.0L932.0 169.0L937.5 167.0L940.0 165.0Z"/>
<path fill="#ffffff" d="M840.0 251.0L844.0 253.0L846.0 255.0L840.0 255.0Z"/>
<path fill="#3399ff" d="M840.0 167.0L846.0 166.0L853.0 167.5L857.0 170.5L861.0 172.5L867.0 171.0L873.0 167.5L878.0 166.0L883.0 167.0L889.0 171.0L896.0 176.0L904.0 179.0L912.0 180.0L920.0 180.0L926.0 178.0L932.0 175.0L937.5 172.0L940.0 171.0L940.0 255.0L855.0 255.0L852.0 252.0L846.0 248.0L840.0 245.0Z"/>
<path fill="#0000ff" d="M840.0 171.5L845.0 171.0L849.0 173.0L852.0 177.0L855.0 179.5L862.0 178.0L870.0 176.0L875.0 177.5L879.0 181.5L884.0 181.0L890.0 178.5L895.0 177.5L902.0 179.5L910.0 182.5L918.0 183.5L926.0 182.5L932.0 180.5L937.5 179.5L940.0 179.0L940.0 255.0L865.0 255.0L862.0 252.0L854.0 248.0L846.0 244.0L840.0 239.5Z"/>
<path fill="#00ff00" d="M840.0 173.0L845.0 172.5L848.0 174.5L851.0 178.5L855.0 181.0L862.0 179.5L870.0 177.5L874.0 179.0L878.0 183.0L884.0 182.5L890.0 180.0L895.0 179.0L902.0 181.0L910.0 184.0L918.0 185.0L926.0 184.0L932.0 182.0L937.5 181.0L940.0 180.5L940.0 255.0L867.0 255.0L862.0 250.0L854.0 246.5L846.0 242.5L840.0 238.0Z"/>
<path fill="#00cc00" d="M840.0 178.0L844.0 179.0L848.0 182.0L853.0 184.5L862.0 182.5L869.0 181.0L873.0 182.5L877.0 185.5L884.0 184.5L890.0 182.0L896.0 181.0L902.0 183.0L910.0 186.0L918.0 187.0L926.0 186.5L932.0 185.0L937.5 184.0L940.0 184.0L940.0 255.0L878.0 255.0L873.0 250.0L864.0 246.5L854.0 244.0L846.0 239.5L840.0 235.0Z"/>
<path fill="#009900" d="M840.0 209.0L846.0 206.0L850.0 202.0L849.0 195.0L852.0 189.0L857.0 186.5L864.0 185.0L868.0 187.5L873.0 189.5L878.0 187.5L884.0 185.5L890.0 183.5L896.0 182.5L902.0 184.5L910.0 187.5L918.0 189.0L926.0 188.5L932.0 187.5L937.5 190.0L940.0 190.0L940.0 255.0L880.0 255.0L875.0 251.0L865.0 247.5L854.0 245.0L846.0 241.0L840.0 236.5Z"/>
<path fill="#ffff00" d="M840.0 211.0L846.0 208.0L852.0 203.0L854.0 198.0L853.0 193.0L857.0 189.0L863.0 188.0L867.0 190.0L872.0 191.0L878.0 189.0L884.0 187.0L890.0 184.5L896.0 183.0L902.0 185.0L910.0 188.5L918.0 190.5L926.0 190.0L932.0 191.5L937.5 193.5L940.0 194.0L940.0 255.0L886.0 255.0L884.0 251.0L880.0 247.0L873.0 244.0L864.0 242.0L854.0 239.0L846.0 235.0L840.0 230.0Z"/>
<path fill="#009900" d="M935.5 196.0L937.5 195.0L940.0 195.0L940.0 202.0L937.5 202.0L935.5 201.0Z"/>
<path fill="#009900" d="M940.0 219.0L937.5 219.0L936.5 221.0L937.5 223.0L940.0 223.0Z"/>
<path fill="#009900" d="M929.0 255.0L930.0 252.0L934.0 250.0L937.5 249.5L940.0 249.5L940.0 255.0Z"/>
<path fill="#ffcc00" d="M840.0 215.0L846.0 211.0L854.0 205.0L862.0 199.0L870.0 194.0L878.0 190.5L885.0 189.0L892.0 187.5L898.0 187.0L904.0 188.5L912.0 190.5L920.0 192.5L925.0 194.0L927.0 198.0L924.0 203.0L923.0 208.0L926.0 212.0L930.0 217.0L929.0 225.0L932.0 231.0L936.0 235.0L937.5 237.0L937.5 245.0L934.0 246.0L928.0 248.0L926.0 252.0L925.0 255.0L894.0 255.0L895.0 250.0L894.0 244.0L891.0 238.0L889.0 234.0L883.0 233.0L875.0 235.0L866.0 235.0L858.0 234.0L851.0 231.0L845.0 226.0L841.0 221.0Z"/>
<path fill="#ffcc00" d="M934.0 210.0L937.5 208.0L940.0 208.0L940.0 214.0L937.5 214.0L935.0 213.0Z"/>
<path fill="#ffff00" d="M903.0 239.0L905.0 238.8L905.0 240.0L903.2 240.0Z"/>
<path fill="#ff6600" d="M842.0 218.0L847.0 213.0L854.0 207.0L862.0 201.0L870.0 196.0L878.0 192.0L885.0 190.0L892.0 189.5L900.0 190.0L910.0 191.2L916.0 193.5L920.0 197.0L917.0 201.0L912.0 203.0L910.0 207.0L914.0 211.0L920.0 215.0L920.0 225.0L916.0 229.0L910.0 230.0L904.0 231.0L896.0 229.0L890.0 229.0L884.0 231.0L878.0 233.0L870.0 234.0L860.0 233.0L853.0 231.0L847.0 227.0L843.0 223.0Z"/>
<path fill="#ff6600" d="M899.0 255.0L900.0 249.0L905.0 244.0L912.0 240.0L919.0 236.0L924.0 235.0L927.0 238.0L925.0 243.0L923.0 247.0L922.0 252.0L921.0 255.0Z"/>
<path fill="#ff0000" d="M845.0 218.0L850.0 214.0L857.0 209.0L864.0 204.0L870.0 199.0L877.0 194.0L884.0 192.0L892.0 191.5L900.0 191.8L908.0 192.5L914.0 194.0L915.0 197.0L912.0 201.0L910.0 204.0L910.0 208.0L913.0 212.0L915.0 217.0L913.0 223.0L908.0 226.0L900.0 228.0L892.0 227.0L884.0 229.0L878.0 231.5L870.0 232.0L860.0 231.0L853.0 228.0L848.0 224.0Z"/>
<path fill="#ff0000" d="M901.0 255.0L903.0 249.0L908.0 244.0L913.0 242.0L918.0 243.0L919.0 248.0L918.0 255.0Z"/>
<path fill="#cc3300" d="M877.0 200.0L880.0 197.0L886.0 196.0L892.0 197.0L895.0 199.5L892.0 202.5L886.0 204.5L880.0 204.0L877.5 202.0Z"/>
<path fill="#cc3300" d="M849.0 220.0L852.0 216.0L858.0 213.5L864.0 214.0L868.0 218.0L873.0 220.0L880.0 218.0L884.0 214.0L890.0 211.0L900.0 210.0L906.0 210.5L909.0 214.0L908.0 219.0L902.0 222.0L894.0 224.0L886.0 226.0L880.0 228.0L875.0 229.0L870.0 226.0L866.0 225.0L862.0 229.0L857.0 230.0L852.0 227.0L849.5 223.0Z"/>
<path fill="#cc3300" d="M906.0 250.0L909.0 246.5L913.0 247.0L914.5 250.0L913.0 254.0L910.0 255.0L907.0 254.0Z"/>
<path fill="#990000" d="M853.0 221.0L855.0 218.0L859.0 216.5L863.0 218.0L864.0 221.0L862.0 224.5L858.0 226.5L854.5 224.5Z"/>
<path fill="#990000" d="M879.0 224.5L881.0 221.0L885.0 216.0L890.0 213.0L896.0 213.5L900.0 216.0L898.0 219.5L893.0 221.5L887.0 223.0L882.0 225.0Z"/>
<path fill="#ff00ff" d="M856.5 222.0L860.5 220.8L861.0 221.8L857.5 223.0Z"/>
<path fill="#ff00ff" d="M883.0 222.0L885.0 218.5L889.0 216.0L894.0 216.0L896.0 217.5L892.0 220.5L887.0 222.5L884.0 223.0Z"/>
</svg>
<svg x="680" y="255" width="160" height="110" viewBox="680 255 160 110">
<rect x="680" y="255" width="160" height="110" fill="#fff"/>
<path fill="#66ffff" d="M774.7 245.0L780.0 249.0L785.3 253.0L782.7 259.7L780.0 266.3L779.3 273.0L782.7 277.0L789.3 277.0L794.7 273.7L800.0 268.3L808.0 263.7L814.7 259.7L821.3 253.0L826.7 247.7L833.3 249.0L840.0 249.7L840.0 245.0Z"/>
<path fill="#66ffff" d="M680.0 255.0L682.0 257.0L682.7 260.3L680.7 264.3L680.0 265.0Z"/>
<path fill="#66ffff" d="M726.0 273.7L729.3 270.3L734.7 267.9L738.7 269.0L739.3 271.7L736.0 275.0L730.7 277.7L727.3 276.3Z"/>
<path fill="#66ffff" d="M703.3 282.3L706.7 281.0L709.6 282.3L708.7 285.0L706.0 286.3L704.0 284.7Z"/>
<path fill="#66ffff" d="M738.0 326.3L740.0 323.7L744.0 323.0L746.0 325.0L742.7 327.9L738.7 328.7Z"/>
<path fill="#66ffff" d="M801.1 319.7L802.7 316.3L806.7 316.3L808.0 318.3L805.3 321.7L801.6 322.1Z"/>
<path fill="#3399ff" d="M785.3 245.0L792.0 250.3L794.7 257.0L800.0 261.0L805.3 262.3L810.7 259.7L817.3 254.3L822.7 247.7L824.0 245.0Z"/>
<path fill="#0000ff" d="M795.3 245.0L798.7 250.3L801.3 255.7L804.7 258.3L809.3 256.3L816.0 251.0L821.3 245.0Z"/>
<path fill="#00ff00" d="M798.0 245.0L800.7 250.3L803.3 255.0L805.3 256.3L809.3 254.3L814.7 249.7L818.7 245.0Z"/>
<path fill="#00cc00" d="M801.3 245.0L804.0 249.7L806.7 251.7L810.7 250.3L816.0 245.0Z"/>
<path fill="#009900" d="M808.0 245.0L809.3 247.0L812.0 247.7L814.7 245.0Z"/>
</svg>
<svg x="840" y="255" width="100" height="80" viewBox="840 255 100 80">
<rect x="840" y="255" width="100" height="80" fill="#fff"/>
<path fill="#66ffff" d="M820.0 249.0L826.0 246.0L831.0 247.0L835.0 249.5L845.0 252.5L853.0 255.0L858.0 260.0L860.0 268.0L863.0 274.0L870.0 280.0L874.0 286.0L874.5 294.0L877.0 299.0L884.0 302.5L892.0 304.0L898.0 309.0L903.0 315.0L907.0 323.0L909.0 330.0L910.0 335.0L940.0 335.0L940.0 245.0L820.0 245.0Z"/>
<path fill="#3399ff" d="M842.0 245.0L850.0 249.0L858.0 253.0L862.0 258.0L864.0 265.0L868.0 271.0L874.0 276.0L878.0 282.0L880.0 288.0L884.0 291.0L892.0 292.0L898.0 294.0L902.0 298.0L905.0 305.0L910.0 313.0L915.0 321.0L919.0 328.0L922.0 335.0L940.0 335.0L940.0 245.0Z"/>
<path fill="#0000ff" d="M850.0 245.0L860.0 248.5L864.0 252.0L867.0 255.0L872.0 256.5L876.0 258.5L880.0 263.0L883.0 270.0L884.5 277.0L886.0 282.0L892.0 283.5L898.0 286.5L904.0 289.0L908.0 293.0L910.0 299.0L912.0 305.0L916.0 310.0L922.0 315.0L928.0 321.0L930.0 328.0L931.0 335.0L940.0 335.0L940.0 245.0Z"/>
<path fill="#00ff00" d="M853.0 245.0L862.0 247.5L867.0 251.0L869.0 253.5L874.0 254.5L878.0 256.0L882.0 260.0L885.0 266.0L886.5 272.0L888.0 278.5L892.0 280.0L898.0 283.5L905.0 287.0L910.0 292.0L912.0 298.0L914.0 304.0L918.0 309.0L924.0 314.0L930.0 319.0L933.0 324.0L933.5 335.0L940.0 335.0L940.0 245.0Z"/>
<path fill="#00cc00" d="M864.0 245.0L870.0 249.0L876.0 251.0L882.0 254.0L886.0 260.0L889.0 268.0L891.0 274.0L896.0 277.0L902.0 280.0L907.0 285.0L912.0 290.0L915.0 297.0L917.0 303.0L921.0 307.0L927.0 312.0L933.0 316.0L940.0 321.0L940.0 245.0Z"/>
<path fill="#009900" d="M872.0 245.0L878.0 247.0L883.0 250.0L887.0 256.0L890.0 264.0L893.0 270.0L899.0 272.0L903.0 274.0L908.0 280.0L914.0 287.0L917.0 293.0L919.0 300.0L923.0 305.0L929.0 310.0L935.0 314.0L940.0 317.5L940.0 245.0Z"/>
<path fill="#ffff00" d="M880.0 245.0L885.0 249.0L889.0 255.0L892.0 263.0L895.0 268.0L900.0 270.0L904.0 272.0L909.0 278.0L915.0 285.0L919.0 291.0L921.0 298.0L925.0 304.0L930.0 308.0L935.0 312.0L940.0 315.5L940.0 245.0Z"/>
<path fill="#ffcc00" d="M895.0 245.0L894.0 251.0L894.0 258.0L896.0 263.0L902.0 265.0L908.0 268.0L912.0 274.0L916.0 281.0L922.0 287.0L925.0 294.0L927.0 301.0L931.0 305.0L935.0 308.0L940.0 311.0L940.0 245.0Z"/>
<path fill="#ff6600" d="M900.0 245.0L898.0 250.0L897.5 257.0L900.0 261.0L906.0 263.0L913.0 264.0L917.0 268.0L919.0 274.0L918.5 279.0L922.0 283.0L927.0 288.0L930.0 295.0L933.0 302.0L936.0 307.0L940.0 309.0L940.0 245.0Z"/>
<path fill="#ffcc00" d="M923.0 245.0L923.0 250.0L921.0 258.0L922.0 264.0L928.0 268.0L934.0 272.0L940.0 276.0L940.0 245.0Z"/>
<path fill="#ffff00" d="M928.0 245.0L925.0 251.0L924.0 258.0L926.0 263.0L930.0 264.0L935.0 261.0L940.0 259.0L940.0 245.0Z"/>
<path fill="#009900" d="M928.5 255.0L931.0 252.0L935.0 250.5L940.0 249.5L940.0 253.0L934.0 254.5L931.0 257.5L929.0 257.5Z"/>
<path fill="#ff0000" d="M903.0 245.0L901.0 251.0L902.0 256.0L906.0 259.0L912.0 260.0L916.0 258.0L918.5 254.0L919.0 248.0L918.0 245.0Z"/>
<path fill="#cc3300" d="M906.0 251.0L908.0 247.5L911.0 246.5L914.0 248.5L914.5 252.0L912.0 254.5L908.5 254.5Z"/>
<path fill="#ff0000" d="M922.0 273.0L925.0 271.0L929.0 272.5L930.0 276.0L928.0 279.5L925.0 281.0L922.0 279.0Z"/>
<path fill="#ff0000" d="M940.0 282.0L935.0 285.0L933.0 289.0L933.0 295.0L935.0 301.0L940.0 306.0Z"/>
</svg>
<svg x="840" y="335" width="100" height="55" viewBox="840 335 100 55">
<rect x="840" y="335" width="100" height="55" fill="#fff"/>
<path fill="#66ffff" d="M879.0 300.0L884.0 302.0L892.0 303.5L896.0 307.0L901.0 313.0L905.0 319.0L907.0 325.0L909.0 331.0L911.0 334.5L908.0 337.5L904.0 338.5L901.0 342.0L905.0 345.0L910.0 348.0L913.0 354.0L916.0 359.0L921.0 363.0L926.0 366.0L931.0 363.0L937.5 359.5L940.0 359.0L940.0 300.0Z"/>
<path fill="#3399ff" d="M903.0 300.0L905.0 306.0L909.0 312.0L913.0 318.0L916.0 325.0L920.0 330.0L922.0 335.0L919.0 341.0L917.0 346.0L916.0 351.0L919.0 357.0L924.0 360.0L927.0 360.5L931.0 358.5L937.5 356.0L940.0 355.5L940.0 300.0Z"/>
<path fill="#0000ff" d="M910.0 300.0L912.0 305.0L916.0 310.0L922.0 315.0L927.0 320.0L929.5 325.0L930.0 330.0L930.5 335.0L929.0 339.0L925.0 342.0L922.0 346.0L921.0 350.0L923.0 354.0L927.0 355.5L932.0 355.0L937.5 354.0L940.0 354.0L940.0 300.0Z"/>
<path fill="#00ff00" d="M912.0 300.0L914.0 304.5L918.0 309.0L924.0 314.0L929.0 318.5L932.5 324.0L933.0 330.0L933.0 337.0L930.0 340.5L926.0 344.0L923.5 348.0L924.5 352.0L928.0 354.0L932.0 353.5L937.5 352.5L940.0 352.5L940.0 300.0Z"/>
<path fill="#00cc00" d="M915.0 300.0L918.0 305.0L923.0 310.0L928.0 314.0L933.0 317.0L937.5 320.0L940.0 321.0L940.0 300.0Z"/>
<path fill="#00cc00" d="M940.0 339.0L937.5 340.0L933.0 343.0L929.0 348.0L931.0 350.0L935.0 350.5L940.0 350.5Z"/>
<path fill="#009900" d="M918.5 300.0L921.0 304.0L926.0 309.0L931.0 313.0L937.5 316.5L940.0 317.5L940.0 300.0Z"/>
<path fill="#ffff00" d="M921.0 300.0L924.0 303.5L928.0 307.0L933.0 311.0L937.5 315.0L940.0 316.5L940.0 300.0Z"/>
<path fill="#ffcc00" d="M925.0 300.0L928.0 303.0L932.0 306.5L937.5 311.5L940.0 313.0L940.0 300.0Z"/>
<path fill="#ff6600" d="M928.5 300.0L931.0 302.5L935.0 305.5L937.5 308.5L940.0 310.0L940.0 300.0Z"/>
<path fill="#ff0000" d="M934.0 300.0L936.0 302.0L937.5 304.5L940.0 306.0L940.0 300.0Z"/>
</svg>
<path fill="#66ffff" d="M538.0 428.7L541.3 426.0L546.7 424.0L548.7 418.7L552.0 414.7L557.3 414.0L561.3 416.7L560.7 422.0L557.3 425.3L552.0 426.9L547.3 427.3L542.7 431.3L539.3 431.7Z"/>
<path fill="#3399ff" d="M552.0 418.7L554.0 416.3L557.3 416.3L558.7 419.3L556.7 422.4L553.3 422.9Z"/>
<path fill="#66ffff" d="M614.9 459.7L616.7 456.3L620.0 456.3L622.0 459.7L618.7 462.7Z"/>
<path fill="#66ffff" d="M652.9 479.3L656.0 473.3L659.3 468.7L663.3 468.3L665.1 471.3L663.3 474.7L658.7 479.3L655.3 482.0Z"/>
<path fill="#66ffff" d="M690.4 449.3L693.3 443.3L698.7 438.7L705.3 435.3L712.0 434.0L714.0 436.7L712.0 441.3L706.7 446.7L700.0 450.0L694.7 452.0Z"/>
<path fill="#3399ff" d="M696.0 445.3L699.3 441.3L705.3 438.0L709.3 438.7L708.7 442.0L704.0 445.3L699.3 447.6Z"/>
<path fill="#66ffff" d="M737.3 444.0L739.3 437.3L744.0 431.3L749.3 428.0L753.3 430.0L752.7 436.0L750.7 442.0L752.0 446.7L762.7 446.0L773.3 443.3L777.3 444.0L780.7 448.7L780.0 455.3L778.7 460.7L774.0 465.3L769.3 467.3L765.3 469.3L762.7 474.0L758.7 478.3L754.7 478.7L753.1 475.3L755.3 470.0L758.7 464.7L757.3 460.7L753.3 455.3L749.3 450.0L744.0 449.7L738.7 449.3Z"/>
<path fill="#3399ff" d="M742.0 441.3L744.0 435.3L747.3 431.3L750.7 432.0L750.7 436.7L748.0 441.3L744.0 443.1Z"/>
<path fill="#3399ff" d="M756.0 452.7L760.0 448.7L768.0 446.3L776.0 446.0L778.9 449.3L778.9 456.0L777.3 460.7L773.3 464.7L768.0 466.7L763.3 466.0L760.0 461.3L756.7 456.7Z"/>
<path fill="#3399ff" d="M757.1 474.0L759.3 470.0L762.0 467.6L763.7 469.3L761.3 472.7L758.7 475.1Z"/>
<path fill="#0000ff" d="M760.0 454.7L762.7 450.7L768.0 448.0L774.7 447.6L778.0 450.0L778.0 456.0L776.7 460.0L772.7 463.3L768.0 464.9L764.0 463.3L761.3 459.3Z"/>
<path fill="#00ff00" d="M761.6 455.3L764.0 451.6L768.7 449.1L774.0 448.7L776.7 450.7L776.9 456.0L775.6 459.3L772.0 462.3L768.0 463.6L764.7 462.0L762.4 458.7Z"/>
<path fill="#009900" d="M764.0 456.0L766.0 452.7L769.3 450.3L773.3 450.0L775.7 452.0L775.7 456.7L774.0 460.0L770.7 462.0L767.3 462.0L765.3 459.3Z"/>
<path fill="#ffff00" d="M766.7 456.0L768.0 452.9L770.7 451.1L774.0 451.1L775.3 453.3L775.3 457.3L773.3 460.4L770.7 461.7L768.0 460.4Z"/>
<path fill="#ffcc00" d="M769.1 456.0L770.4 453.3L772.7 452.4L774.4 454.0L774.4 457.3L772.7 459.3L770.4 459.1Z"/>
<path fill="#ff6600" d="M770.9 455.9L774.0 455.9L774.0 456.7L770.9 456.7Z"/>
<path fill="#66ffff" d="M777.1 438.7L778.7 432.7L782.0 428.0L786.7 425.3L790.4 425.7L792.0 430.0L790.7 434.7L786.7 438.7L781.3 441.7L778.0 441.3Z"/>
<path fill="#3399ff" d="M780.0 434.7L782.0 430.7L786.0 428.0L789.3 428.7L790.0 432.0L787.3 435.3L783.3 437.1L780.7 436.7Z"/>
<path fill="#66ffff" d="M720.0 506.7L722.0 502.7L726.0 501.1L736.0 502.0L738.0 504.7L738.9 509.3L736.7 513.3L733.3 516.0L730.0 515.6L724.7 512.0L721.3 509.3Z"/>
<path fill="#3399ff" d="M725.1 508.0L726.7 505.3L734.7 505.3L737.1 508.0L736.7 511.3L733.3 514.0L730.7 513.7L726.7 510.7Z"/>
<path fill="#66ffff" d="M772.3 504.0L774.7 499.3L779.3 496.0L785.3 492.0L790.7 488.0L794.0 486.0L797.1 487.3L796.3 491.3L793.3 496.7L790.7 502.0L786.7 506.7L782.7 509.7L778.0 509.7L774.0 507.3Z"/>
<path fill="#3399ff" d="M776.3 503.3L778.7 499.6L783.3 496.0L788.7 492.4L792.7 490.0L794.0 492.0L792.0 496.7L789.3 501.3L786.0 505.3L782.0 507.3L778.0 506.3Z"/>
<path fill="#0000ff" d="M779.3 502.0L781.1 498.7L784.7 496.0L788.7 494.3L790.0 496.0L788.7 500.0L786.0 503.3L782.7 505.3L780.3 504.4Z"/>
<path fill="#00ff00" d="M781.1 501.3L782.4 498.7L785.3 496.7L788.3 496.0L788.7 498.0L787.3 500.7L784.7 503.3L782.0 504.0Z"/>
<path fill="#00cc00" d="M782.7 500.7L784.0 498.7L786.0 498.0L786.7 499.6L784.7 502.0L782.9 502.3Z"/>
<path fill="#66ffff" d="M804.9 517.3L807.3 513.3L811.3 508.9L812.7 510.0L811.3 514.0L808.7 517.3L806.0 518.0Z"/>
<path fill="#66ffff" d="M869.1 432.0L871.3 430.0L875.3 429.7L877.6 431.6L877.1 435.1L874.0 436.9L870.4 436.4Z"/>
<path fill="#66ffff" d="M891.1 463.3L893.3 458.0L897.3 455.3L901.3 456.7L904.7 462.7L906.7 470.7L906.0 476.0L903.3 478.0L899.3 476.7L895.3 473.3L892.7 468.7Z"/>
<path fill="#3399ff" d="M894.0 462.7L896.0 459.7L900.0 459.3L902.7 463.3L903.3 469.3L902.0 472.7L899.3 473.3L896.0 470.0Z"/>
<path fill="#66ffff" d="M891.3 550.7L893.3 545.3L896.0 543.3L899.3 546.0L900.7 550.7L898.7 556.0L895.3 559.3L892.7 556.0Z"/>
<path fill="#66ffff" d="M892.0 601.3L894.7 598.0L897.3 597.7L898.0 600.0L895.3 603.1L892.7 603.3Z"/>
<path fill="#66ffff" d="M808.0 638.7L810.7 638.7L814.7 642.0L820.0 640.7L825.3 639.3L832.0 640.7L834.7 644.7L834.7 650.0L832.0 652.0L816.0 652.0L812.7 648.7L810.7 643.3Z"/>
<path fill="#3399ff" d="M817.3 646.0L820.7 642.0L826.0 640.9L831.3 642.7L832.7 646.7L830.7 649.7L821.3 649.7Z"/>
<path fill="#0000ff" d="M822.9 645.3L825.3 644.0L828.7 644.9L828.7 646.7L823.3 646.7Z"/>
<path fill="#66ffff" d="M841.1 655.3L842.7 652.0L846.0 651.3L849.1 654.0L849.3 657.3L846.7 659.6L842.7 659.1Z"/>
<path fill="#66ffff" d="M919.1 652.7L921.6 649.3L924.7 648.0L926.9 650.7L926.4 654.0L923.3 656.0L920.7 655.3Z"/>
<path fill="#66ffff" d="M902.9 680.0L904.7 676.0L908.0 675.1L911.3 677.3L912.0 681.3L910.0 684.7L906.7 685.7L904.0 683.3Z"/>
<path fill="#66ffff" d="M831.1 736.0L833.3 731.3L837.3 729.3L841.3 730.7L843.3 734.7L843.3 738.7L840.7 742.0L836.7 743.1L832.7 740.7Z"/>
<path fill="#3399ff" d="M834.0 736.7L835.3 733.7L838.0 732.7L840.4 734.7L840.7 737.3L838.7 739.6L835.3 739.3Z"/>
<path fill="#66ffff" d="M725.1 674.7L726.7 673.1L728.7 674.4L727.3 676.7L726.0 676.7Z"/>
<path fill="#66ffff" d="M746.0 705.3L748.0 700.7L751.3 697.6L756.0 696.7L759.7 698.7L760.7 703.3L759.3 708.7L756.0 712.0L751.3 712.7L747.3 710.7Z"/>
<path fill="#3399ff" d="M748.0 705.3L750.0 701.3L753.1 698.9L756.7 698.9L758.7 701.3L758.7 705.3L756.7 708.7L752.7 710.0L749.3 708.7Z"/>
<path fill="#0000ff" d="M750.0 705.3L751.3 702.0L754.0 700.4L756.7 701.6L757.1 705.1L755.3 707.3L752.0 707.7Z"/>
<path fill="#00ff00" d="M752.0 704.7L753.1 702.7L755.3 702.4L756.0 704.3L754.7 706.4L752.7 706.4Z"/>
<path fill="#66ffff" d="M493.1 540.0L494.7 537.1L497.3 536.0L500.3 537.6L501.1 541.3L499.3 544.3L496.0 546.0L493.6 544.0Z"/>
<path fill="#66ffff" d="M489.1 585.3L491.3 581.3L496.0 583.3L502.7 584.0L505.3 586.7L506.0 592.7L504.0 598.0L500.7 601.6L498.0 601.1L495.3 596.0L493.3 590.7L490.7 588.0Z"/>
<path fill="#3399ff" d="M496.0 590.7L497.3 587.7L501.3 586.9L503.7 589.3L503.7 593.1L502.0 596.0L498.7 597.1L496.7 594.7Z"/>
<path fill="#66ffff" d="M498.0 616.0L499.3 610.7L502.7 608.3L509.3 608.3L512.0 611.3L513.1 618.7L511.7 625.3L509.3 630.7L504.7 630.9L500.7 627.3L498.4 622.0Z"/>
<path fill="#3399ff" d="M500.0 616.0L501.3 612.0L504.7 610.0L508.7 610.7L510.4 614.0L510.7 619.3L509.1 624.7L506.0 627.7L503.3 626.0L500.7 621.3Z"/>
<path fill="#0000ff" d="M502.0 616.7L503.3 613.6L506.4 612.3L508.3 614.0L508.7 618.0L507.3 620.7L504.7 622.0L502.7 620.0Z"/>
<path fill="#00ff00" d="M503.1 616.7L504.7 614.4L507.3 613.6L507.3 618.0L505.3 619.3L503.3 618.7Z"/>
<path fill="#66ffff" d="M455.0 683.0L456.0 680.5L459.0 679.8L461.5 682.0L461.0 685.5L458.5 687.0L456.0 685.8Z"/>
<path fill="#66ffff" d="M488.0 670.0L489.5 667.0L494.0 668.0L499.0 672.0L505.0 677.0L506.0 682.0L505.5 686.0L502.0 688.0L494.0 688.5L491.0 691.0L491.0 696.0L493.5 700.0L495.0 703.5L492.0 705.0L488.0 706.0L484.0 709.0L481.0 712.0L477.0 713.5L470.0 713.8L467.0 711.5L465.5 707.0L464.5 703.0L467.0 698.0L472.0 694.5L477.0 693.0L479.0 689.0L481.0 684.0L485.0 683.0L488.0 681.0L488.5 676.0Z"/>
<path fill="#3399ff" d="M492.0 675.0L493.5 673.0L496.0 674.0L498.5 677.0L499.0 680.0L497.5 682.0L494.5 681.8L493.0 679.0Z"/>
<path fill="#3399ff" d="M468.0 704.0L469.5 700.0L473.0 696.5L479.0 694.0L482.0 691.0L485.0 691.0L487.0 694.0L488.0 698.0L487.0 703.0L484.0 707.0L480.0 710.5L475.0 711.8L471.0 711.0L468.5 708.0Z"/>
<path fill="#0000ff" d="M470.0 703.5L472.0 699.5L475.5 696.5L480.0 695.0L483.5 697.0L485.0 700.5L483.5 705.0L480.0 708.5L476.0 710.0L472.5 709.0L470.5 706.5Z"/>
<path fill="#00ff00" d="M471.0 703.5L473.0 700.0L476.0 697.5L480.0 696.2L482.8 698.0L484.0 701.0L482.5 704.5L479.5 707.5L476.0 709.0L473.0 708.0L471.5 706.0Z"/>
<path fill="#00cc00" d="M472.5 703.0L474.0 700.5L476.5 698.5L480.0 697.8L481.8 699.5L482.2 702.0L480.5 705.0L478.0 706.8L475.0 707.2L473.0 705.5Z"/>
<path fill="#009900" d="M474.0 702.8L475.5 700.8L477.5 699.5L480.0 699.5L481.0 701.0L480.5 703.5L479.0 705.2L476.5 706.0L474.5 704.8Z"/>
<path fill="#ffff00" d="M475.0 702.2L479.0 702.0L479.0 703.8L475.2 704.0Z"/>
<path fill="#66ffff" d="M480.0 721.0L481.5 716.5L484.5 713.5L489.0 713.2L495.0 715.0L499.0 717.5L499.0 721.0L497.0 723.5L493.0 725.0L484.0 725.0L481.5 725.8L480.0 724.0Z"/>
<path fill="#3399ff" d="M484.5 719.5L486.0 717.5L490.0 717.0L492.0 719.5L490.0 721.5L486.5 721.5Z"/>
<path fill="#66ffff" d="M353.0 799.0L355.0 796.0L360.0 795.0L368.0 795.5L374.0 797.0L382.0 799.0L388.0 798.5L393.0 796.0L396.0 792.0L397.0 787.0L395.5 784.0L390.0 780.0L384.0 776.0L380.0 772.5L378.0 769.0L379.5 766.0L384.0 765.0L392.0 767.0L400.0 769.0L410.0 770.5L416.0 772.5L419.0 769.5L422.0 766.5L425.5 766.0L426.0 770.0L423.0 776.0L420.0 781.0L418.0 786.5L421.0 790.0L425.0 793.5L427.0 798.0L425.5 803.0L421.0 806.0L416.0 808.0L412.0 810.0L410.5 815.0L410.0 820.5L364.0 820.5L362.0 816.0L358.0 810.0L354.5 804.5Z"/>
<path fill="#3399ff" d="M390.0 771.5L394.0 771.0L402.0 772.5L409.0 773.5L412.0 776.0L414.0 778.5L411.0 781.0L405.0 781.5L400.0 780.0L395.0 777.0L391.0 774.0Z"/>
<path fill="#3399ff" d="M360.0 801.0L363.0 799.0L370.0 799.0L380.0 800.0L390.0 800.0L396.0 799.0L401.0 796.0L404.0 792.0L407.0 791.0L412.0 793.0L419.0 796.0L422.0 799.0L419.0 802.0L414.0 804.5L410.0 806.5L408.0 810.0L406.5 815.0L404.0 820.5L368.0 820.5L366.0 815.0L362.5 809.0L360.5 805.0Z"/>
<path fill="#0000ff" d="M366.0 804.5L369.0 802.0L375.0 802.0L382.0 803.0L390.0 802.5L398.0 801.5L403.0 799.0L406.0 796.5L409.0 795.8L411.0 799.0L409.0 803.0L406.0 805.5L404.5 809.0L404.0 815.0L402.0 819.0L399.0 820.5L372.0 820.5L370.0 815.0L367.0 809.0Z"/>
<path fill="#00ff00" d="M368.5 807.5L370.0 804.5L374.0 803.0L382.0 803.8L390.0 803.0L396.0 803.5L400.5 805.0L402.5 808.0L403.0 813.0L401.5 816.5L399.0 819.0L397.0 820.5L372.5 820.5L371.0 815.0L369.0 811.0Z"/>
<path fill="#00cc00" d="M373.0 809.0L375.0 806.5L380.0 805.0L387.0 804.5L394.0 804.8L399.0 806.5L401.0 810.0L401.0 814.0L399.0 817.5L396.0 820.0L375.0 820.5L374.0 816.0L373.0 812.0Z"/>
<path fill="#009900" d="M376.0 811.0L378.5 808.5L383.0 806.8L390.0 806.0L396.0 806.5L399.5 809.0L400.0 813.0L398.5 816.0L396.0 818.5L393.0 820.0L377.0 820.5L376.0 816.0Z"/>
<path fill="#ffff00" d="M378.0 813.5L379.5 810.5L383.0 808.5L389.0 807.0L394.5 808.0L397.5 810.5L398.0 813.5L396.0 816.5L392.0 818.5L386.0 819.5L381.0 819.0L378.5 816.5Z"/>
<path fill="#ffcc00" d="M381.5 813.0L383.0 811.0L387.0 809.5L392.0 809.5L394.5 811.0L394.8 813.5L392.5 815.5L388.0 816.8L384.0 816.5L382.0 815.0Z"/>
<path fill="#66ffff" d="M779.0 770.0L780.0 766.0L783.0 764.0L786.5 765.0L790.0 769.0L792.0 774.0L791.5 778.5L789.0 781.5L785.5 781.8L782.0 779.0L779.5 774.5Z"/>
<path fill="#3399ff" d="M782.0 772.0L783.0 769.0L785.0 768.0L787.0 770.0L788.2 773.5L787.2 776.2L785.0 777.0L783.0 775.0Z"/>
<path fill="#66ffff" d="M786.2 803.0L787.5 800.0L790.0 798.2L793.0 799.5L795.0 803.0L793.5 806.5L791.0 808.0L788.0 806.5Z"/>
<path fill="#66ffff" d="M750.0 403.0L750.5 399.0L754.0 394.5L759.0 391.5L762.0 391.0L762.5 393.0L760.0 397.0L756.0 401.0L752.5 404.0Z"/>
<path fill="#66ffff" d="M431.0 752.8L432.0 752.8L432.0 753.8L431.0 753.8Z"/>
<path fill="#66ffff" d="M366.0 534.6L367.0 534.6L367.0 535.6L366.0 535.6Z"/>
</g>
<g stroke="#999" stroke-width="1.15" fill="none">
<path stroke-dasharray="2.2 7.33" d="M301.2 821.1V79.4"/>
<path stroke-dasharray="2.2 7.33" d="M359.0 821.1V79.4"/>
<path stroke-dasharray="2.2 7.33" d="M416.8 821.1V79.4"/>
<path stroke-dasharray="2.2 7.33" d="M474.7 821.1V79.4"/>
<path stroke-dasharray="2.2 7.33" d="M532.5 821.1V79.4"/>
<path stroke-dasharray="2.2 7.33" d="M590.4 821.1V79.4"/>
<path stroke-dasharray="2.2 7.33" d="M648.2 821.1V79.4"/>
<path stroke-dasharray="2.2 7.33" d="M706.0 821.1V79.4"/>
<path stroke-dasharray="2.2 7.33" d="M763.9 821.1V79.4"/>
<path stroke-dasharray="2.2 7.33" d="M821.7 821.1V79.4"/>
<path stroke-dasharray="2.2 7.33" d="M879.6 821.1V79.4"/>
<path stroke-dasharray="2.2 7.62" d="M261.9 797.9H937.4"/>
<path stroke-dasharray="2.2 7.62" d="M261.9 730.6H937.4"/>
<path stroke-dasharray="2.2 7.62" d="M261.9 663.2H937.4"/>
<path stroke-dasharray="2.2 7.62" d="M261.9 595.9H937.4"/>
<path stroke-dasharray="2.2 7.62" d="M261.9 528.5H937.4"/>
<path stroke-dasharray="2.2 7.62" d="M261.9 461.1H937.4"/>
<path stroke-dasharray="2.2 7.62" d="M261.9 393.8H937.4"/>
<path stroke-dasharray="2.2 7.62" d="M261.9 326.4H937.4"/>
<path stroke-dasharray="2.2 7.62" d="M261.9 259.0H937.4"/>
<path stroke-dasharray="2.2 7.62" d="M261.9 191.7H937.4"/>
<path stroke-dasharray="2.2 7.62" d="M261.9 124.3H937.4"/>
</g>
<g clip-path="url(#pc)" id="coast" stroke="#000" stroke-width="1.0" fill="none" stroke-linejoin="round">
<path d="M278.0 79.0L288.0 95.7L295.3 102.3L300.7 112.3L303.7 121.7L322.4 129.4L325.6 139.9L317.6 135.9L310.7 141.4L317.3 147.7L322.7 155.7L317.3 163.4L307.3 161.7L298.7 165.7L291.6 159.7L278.0 171.3L294.9 179.3L308.7 191.4L318.7 189.4L326.0 195.7L328.0 208.0L327.7 222.7L324.4 233.3L332.7 229.7L329.3 239.6L320.7 243.3L314.0 249.3L303.7 251.7L300.3 261.3L305.6 271.3L300.7 278.9L293.3 285.3L288.3 293.3L293.3 301.3L291.6 313.3L293.3 325.7L298.9 333.7L305.3 352.7L330.9 392.9L348.0 401.1L359.3 400.9L380.0 404.9L380.0 405.3L389.1 409.1L403.3 421.1L428.7 461.1L437.3 465.1L444.0 445.3L452.7 441.3L454.4 429.1L464.7 431.3L474.0 416.7L482.0 409.3L472.0 411.3L468.3 400.0L468.3 399.3L468.3 385.3L456.3 385.3L449.3 379.3L438.7 377.3L430.4 373.3L420.0 357.3L411.6 351.3L406.7 315.3L399.3 309.3L407.3 314.0L416.7 331.3L425.3 335.3L435.3 333.3L440.7 341.3L451.1 343.6L456.3 351.3L464.3 355.3L470.0 363.3L478.7 369.3L486.7 373.3L497.3 375.1L489.1 379.3L499.1 377.3L506.0 383.3L507.6 395.3L514.7 401.3L524.7 416.7L524.9 431.6L519.7 439.1L518.0 451.3L524.7 457.1L529.6 464.9L536.7 470.9L543.7 479.3L554.0 477.3L563.3 479.1L573.3 483.3L592.7 486.9L610.7 494.9L620.9 511.3L630.7 513.1L647.3 520.7L658.0 524.7L672.0 536.7L677.3 544.9L685.6 548.7L692.9 554.9L698.0 562.9L705.1 568.9L709.7 578.4L716.7 584.4L722.0 592.7L725.3 602.9L721.7 612.9L723.6 625.3L728.7 632.9L722.0 638.7L716.7 646.7L727.3 644.7L718.7 648.7L716.7 660.7L702.7 672.9L699.6 682.4L709.6 698.7L723.3 710.7L728.7 718.7L737.3 722.7L749.3 720.4L783.3 736.7L788.7 729.3L789.1 714.0L786.0 704.7L780.0 696.4L763.3 688.9L758.0 680.7L751.3 660.7L773.3 656.4L783.3 672.7L801.3 680.9L810.7 682.4L818.0 688.7L806.0 688.9L811.1 696.7L821.3 698.9L812.7 702.9L818.0 711.3L821.3 722.7L816.0 730.7L814.5 742.5L827.5 754.5L836.0 758.5L843.5 764.5L854.0 780.0L860.8 799.0L860.5 814.5L867.8 814.5L869.5 802.0L865.7 792.5L865.7 778.0L867.5 766.5L872.5 759.0L890.0 750.5L900.5 748.3L920.7 752.7L930.0 756.7L937.6 758.3"/>
<path d="M422.0 343.3L432.3 345.3L437.3 353.1L427.3 355.3L420.4 349.3Z"/>
<path d="M322.4 129.4L325.3 120.3L332.0 110.7L334.7 101.7L344.4 99.7L358.7 111.3L368.0 115.9L388.0 120.1L400.0 124.3L420.0 133.7L440.0 143.9L473.3 159.4L481.3 155.9L495.3 143.9L504.0 139.7L512.0 133.3L519.3 129.4L526.7 135.7L538.0 135.7L546.0 141.7L553.3 145.0L562.0 154.1L569.3 157.4L574.9 153.0L579.7 147.7L582.9 157.0L589.3 166.3L604.9 173.7L607.7 180.3L610.7 195.3L623.3 195.7L631.3 199.3L638.7 195.7L649.3 200.4L662.7 211.3L672.7 209.3L688.7 200.0L699.3 197.0L708.7 192.0L714.7 187.3L713.0 172.0L711.7 163.3L712.7 161.7"/>
<path d="M326.0 79.0L333.1 86.3L349.6 93.7L355.1 101.7L372.0 109.9L392.0 113.9L401.3 118.3L408.7 123.9L417.3 125.7L431.3 125.7L440.0 127.7L458.0 135.7L469.3 136.1L478.7 139.7L488.0 137.7L495.3 131.7L498.7 121.7L497.7 109.7L499.3 98.3L496.7 88.3L490.7 79.0"/>
<path d="M450.0 101.0L455.7 109.7L447.6 113.7Z"/>
<path d="M674.0 79.0L674.9 88.3L677.3 107.0L683.3 124.3L691.3 139.7L696.7 148.7L700.0 154.3L703.0 163.3L712.7 161.7L716.7 164.0L720.0 168.7L723.3 175.0L726.0 182.7L728.7 191.3L723.7 183.7L723.7 193.3L723.3 194.0L720.0 207.3L728.7 203.6L734.0 212.7L736.0 222.0L742.0 242.0L746.7 251.3L750.7 260.7L756.0 268.7L759.6 279.3L784.7 319.3L792.4 325.3L808.0 350.0L818.0 365.3L824.7 371.3L834.9 369.3L838.4 378.7L869.3 427.1L878.0 431.1L880.7 439.3L886.7 449.1L895.3 453.1L915.3 456.7L920.7 464.9L925.3 468.7L937.3 478.7"/>
<path d="M925.3 468.7L920.7 471.1L917.3 481.1L908.7 485.1L890.0 465.3L881.3 461.1L871.3 463.3L865.7 471.3L872.9 483.3L872.7 485.3L868.0 485.1L859.3 489.1L853.7 497.3L854.0 582.0L865.3 584.9L874.0 588.7L881.1 596.7L890.0 600.7L894.9 608.9L891.7 618.9L884.0 625.3L867.7 632.9L864.7 642.3L857.3 648.9L860.7 659.3L860.7 659.1L871.3 674.7L874.7 698.0L874.7 712.7L870.0 720.0L862.4 726.7L852.0 728.7L847.0 736.0L841.0 741.5L831.8 746.5L837.5 754.0L845.5 761.0L854.3 764.8L855.3 773.0L862.7 797.0L862.5 810.0L860.5 814.5"/>
</g>
<rect x="262.6" y="79.4" width="674.8" height="741.0" fill="none" stroke="#000" stroke-width="1.5"/>
<g stroke="#1a1a1a" stroke-width="1.2">
<path d="M301.2 820.4v5.5"/>
<path d="M359.0 820.4v5.5"/>
<path d="M416.8 820.4v5.5"/>
<path d="M474.7 820.4v5.5"/>
<path d="M532.5 820.4v5.5"/>
<path d="M590.4 820.4v5.5"/>
<path d="M648.2 820.4v5.5"/>
<path d="M706.0 820.4v5.5"/>
<path d="M763.9 820.4v5.5"/>
<path d="M821.7 820.4v5.5"/>
<path d="M879.6 820.4v5.5"/>
<path d="M262.6 797.9h-5.5"/>
<path d="M262.6 730.6h-5.5"/>
<path d="M262.6 663.2h-5.5"/>
<path d="M262.6 595.9h-5.5"/>
<path d="M262.6 528.5h-5.5"/>
<path d="M262.6 461.1h-5.5"/>
<path d="M262.6 393.8h-5.5"/>
<path d="M262.6 326.4h-5.5"/>
<path d="M262.6 259.0h-5.5"/>
<path d="M262.6 191.7h-5.5"/>
<path d="M262.6 124.3h-5.5"/>
</g>
<g class="ax">
<text x="301.2" y="841" text-anchor="middle" textLength="45.4" lengthAdjust="spacingAndGlyphs">85.8W</text>
<text x="359.0" y="841" text-anchor="middle" textLength="45.4" lengthAdjust="spacingAndGlyphs">85.5W</text>
<text x="416.8" y="841" text-anchor="middle" textLength="45.4" lengthAdjust="spacingAndGlyphs">85.2W</text>
<text x="474.7" y="841" text-anchor="middle" textLength="45.4" lengthAdjust="spacingAndGlyphs">84.9W</text>
<text x="532.5" y="841" text-anchor="middle" textLength="45.4" lengthAdjust="spacingAndGlyphs">84.6W</text>
<text x="590.4" y="841" text-anchor="middle" textLength="45.4" lengthAdjust="spacingAndGlyphs">84.3W</text>
<text x="648.2" y="841" text-anchor="middle" textLength="29.5" lengthAdjust="spacingAndGlyphs">84W</text>
<text x="706.0" y="841" text-anchor="middle" textLength="45.4" lengthAdjust="spacingAndGlyphs">83.7W</text>
<text x="763.9" y="841" text-anchor="middle" textLength="45.4" lengthAdjust="spacingAndGlyphs">83.4W</text>
<text x="821.7" y="841" text-anchor="middle" textLength="45.4" lengthAdjust="spacingAndGlyphs">83.1W</text>
<text x="879.6" y="841" text-anchor="middle" textLength="45.4" lengthAdjust="spacingAndGlyphs">82.8W</text>
<text x="253.2" y="804.3" text-anchor="end" textLength="34" lengthAdjust="spacingAndGlyphs">8.1N</text>
<text x="253.2" y="737.0" text-anchor="end" textLength="34" lengthAdjust="spacingAndGlyphs">8.4N</text>
<text x="253.2" y="669.6" text-anchor="end" textLength="34" lengthAdjust="spacingAndGlyphs">8.7N</text>
<text x="253.2" y="602.3" text-anchor="end" textLength="17.5" lengthAdjust="spacingAndGlyphs">9N</text>
<text x="253.2" y="534.9" text-anchor="end" textLength="34" lengthAdjust="spacingAndGlyphs">9.3N</text>
<text x="253.2" y="467.5" text-anchor="end" textLength="34" lengthAdjust="spacingAndGlyphs">9.6N</text>
<text x="253.2" y="400.2" text-anchor="end" textLength="34" lengthAdjust="spacingAndGlyphs">9.9N</text>
<text x="253.2" y="332.8" text-anchor="end" textLength="43" lengthAdjust="spacingAndGlyphs">10.2N</text>
<text x="253.2" y="265.4" text-anchor="end" textLength="43" lengthAdjust="spacingAndGlyphs">10.5N</text>
<text x="253.2" y="198.1" text-anchor="end" textLength="43" lengthAdjust="spacingAndGlyphs">10.8N</text>
<text x="253.2" y="130.7" text-anchor="end" textLength="43" lengthAdjust="spacingAndGlyphs">11.1N</text>
</g>
<text class="t" y="30"><tspan x="131.00" textLength="262.20" lengthAdjust="spacingAndGlyphs">IMN/SARAPIQUI_5</tspan> <tspan x="409.00" textLength="193.20" lengthAdjust="spacingAndGlyphs">Precipitacion</tspan> <tspan x="618.20" textLength="159.80" lengthAdjust="spacingAndGlyphs">Acumulada</tspan> <tspan x="797.20" textLength="35.60" lengthAdjust="spacingAndGlyphs">en</tspan> <tspan x="849.20" textLength="19.60" lengthAdjust="spacingAndGlyphs">6</tspan> <tspan x="886.80" textLength="82.40" lengthAdjust="spacingAndGlyphs">horas</tspan> <tspan x="986.00" textLength="86.00" lengthAdjust="spacingAndGlyphs">(mm)</tspan></text>
<text class="t" y="62" transform="scale(0.97,1)"><tspan x="476.29" textLength="79.38" lengthAdjust="spacing">2025</tspan><tspan x="554.23" textLength="31.86" lengthAdjust="spacingAndGlyphs">-</tspan><tspan x="579.38" textLength="40.72" lengthAdjust="spacing">08</tspan><tspan x="620.21" textLength="31.86" lengthAdjust="spacingAndGlyphs">-</tspan><tspan x="645.36" textLength="38.14" lengthAdjust="spacing">07</tspan> <tspan x="706.19" textLength="56.19" lengthAdjust="spacing">18Z</tspan></text>
<text class="ft" y="876.5"><tspan x="326.20" textLength="106.80" lengthAdjust="spacingAndGlyphs">Instituto</tspan> <tspan x="444.80" textLength="178.00" lengthAdjust="spacingAndGlyphs">Meteorologico</tspan> <tspan x="635.00" textLength="110.20" lengthAdjust="spacingAndGlyphs">Nacional</tspan> <tspan x="757.80" textLength="72.80" lengthAdjust="spacingAndGlyphs">Costa</tspan> <tspan x="844.80" textLength="55.20" lengthAdjust="spacingAndGlyphs">Rica</tspan></text>
<g stroke="#000" stroke-width="1.1" stroke-linejoin="miter">
<path d="M1057.8 132.2L1068.75 89.5L1079.7 132.2Z" fill="#aaaaaa"/>
<rect x="1057.8" y="132.20" width="21.9" height="42.35" fill="#f5f5f5"/>
<rect x="1057.8" y="174.55" width="21.9" height="42.35" fill="#9932cc"/>
<rect x="1057.8" y="216.91" width="21.9" height="42.35" fill="#ff00ff"/>
<rect x="1057.8" y="259.26" width="21.9" height="42.35" fill="#990000"/>
<rect x="1057.8" y="301.61" width="21.9" height="42.35" fill="#cc3300"/>
<rect x="1057.8" y="343.97" width="21.9" height="42.35" fill="#ff0000"/>
<rect x="1057.8" y="386.32" width="21.9" height="42.35" fill="#ff6600"/>
<rect x="1057.8" y="428.67" width="21.9" height="42.35" fill="#ffcc00"/>
<rect x="1057.8" y="471.03" width="21.9" height="42.35" fill="#ffff00"/>
<rect x="1057.8" y="513.38" width="21.9" height="42.35" fill="#009900"/>
<rect x="1057.8" y="555.73" width="21.9" height="42.35" fill="#00cc00"/>
<rect x="1057.8" y="598.09" width="21.9" height="42.35" fill="#00ff00"/>
<rect x="1057.8" y="640.44" width="21.9" height="42.35" fill="#0000ff"/>
<rect x="1057.8" y="682.79" width="21.9" height="42.35" fill="#3399ff"/>
<rect x="1057.8" y="725.15" width="21.9" height="42.35" fill="#66ffff"/>
<path d="M1057.8 767.5L1068.75 810.5L1079.7 767.5Z" fill="#fff"/>
</g>
<g class="cb">
<text x="1085.3" y="139.5" textLength="38.8" lengthAdjust="spacingAndGlyphs">200</text>
<text x="1085.3" y="181.9" textLength="38.8" lengthAdjust="spacingAndGlyphs">150</text>
<text x="1085.3" y="224.2" textLength="38.8" lengthAdjust="spacingAndGlyphs">120</text>
<text x="1085.3" y="266.6" textLength="38.8" lengthAdjust="spacingAndGlyphs">100</text>
<text x="1085.3" y="308.9" textLength="26.5" lengthAdjust="spacingAndGlyphs">90</text>
<text x="1085.3" y="351.3" textLength="26.5" lengthAdjust="spacingAndGlyphs">75</text>
<text x="1085.3" y="393.6" textLength="26.5" lengthAdjust="spacingAndGlyphs">60</text>
<text x="1085.3" y="436.0" textLength="26.5" lengthAdjust="spacingAndGlyphs">50</text>
<text x="1085.3" y="478.3" textLength="26.5" lengthAdjust="spacingAndGlyphs">40</text>
<text x="1085.3" y="520.7" textLength="26.5" lengthAdjust="spacingAndGlyphs">30</text>
<text x="1085.3" y="563.0" textLength="26.5" lengthAdjust="spacingAndGlyphs">25</text>
<text x="1085.3" y="605.4" textLength="26.5" lengthAdjust="spacingAndGlyphs">20</text>
<text x="1085.3" y="647.7" textLength="26.5" lengthAdjust="spacingAndGlyphs">15</text>
<text x="1085.3" y="690.1" textLength="43.8" lengthAdjust="spacingAndGlyphs">12.5</text>
<text x="1085.3" y="732.4" textLength="12" lengthAdjust="spacingAndGlyphs">7</text>
<text x="1085.3" y="774.8" textLength="32" lengthAdjust="spacingAndGlyphs">3.5</text>
</g>
</svg></body></html>
